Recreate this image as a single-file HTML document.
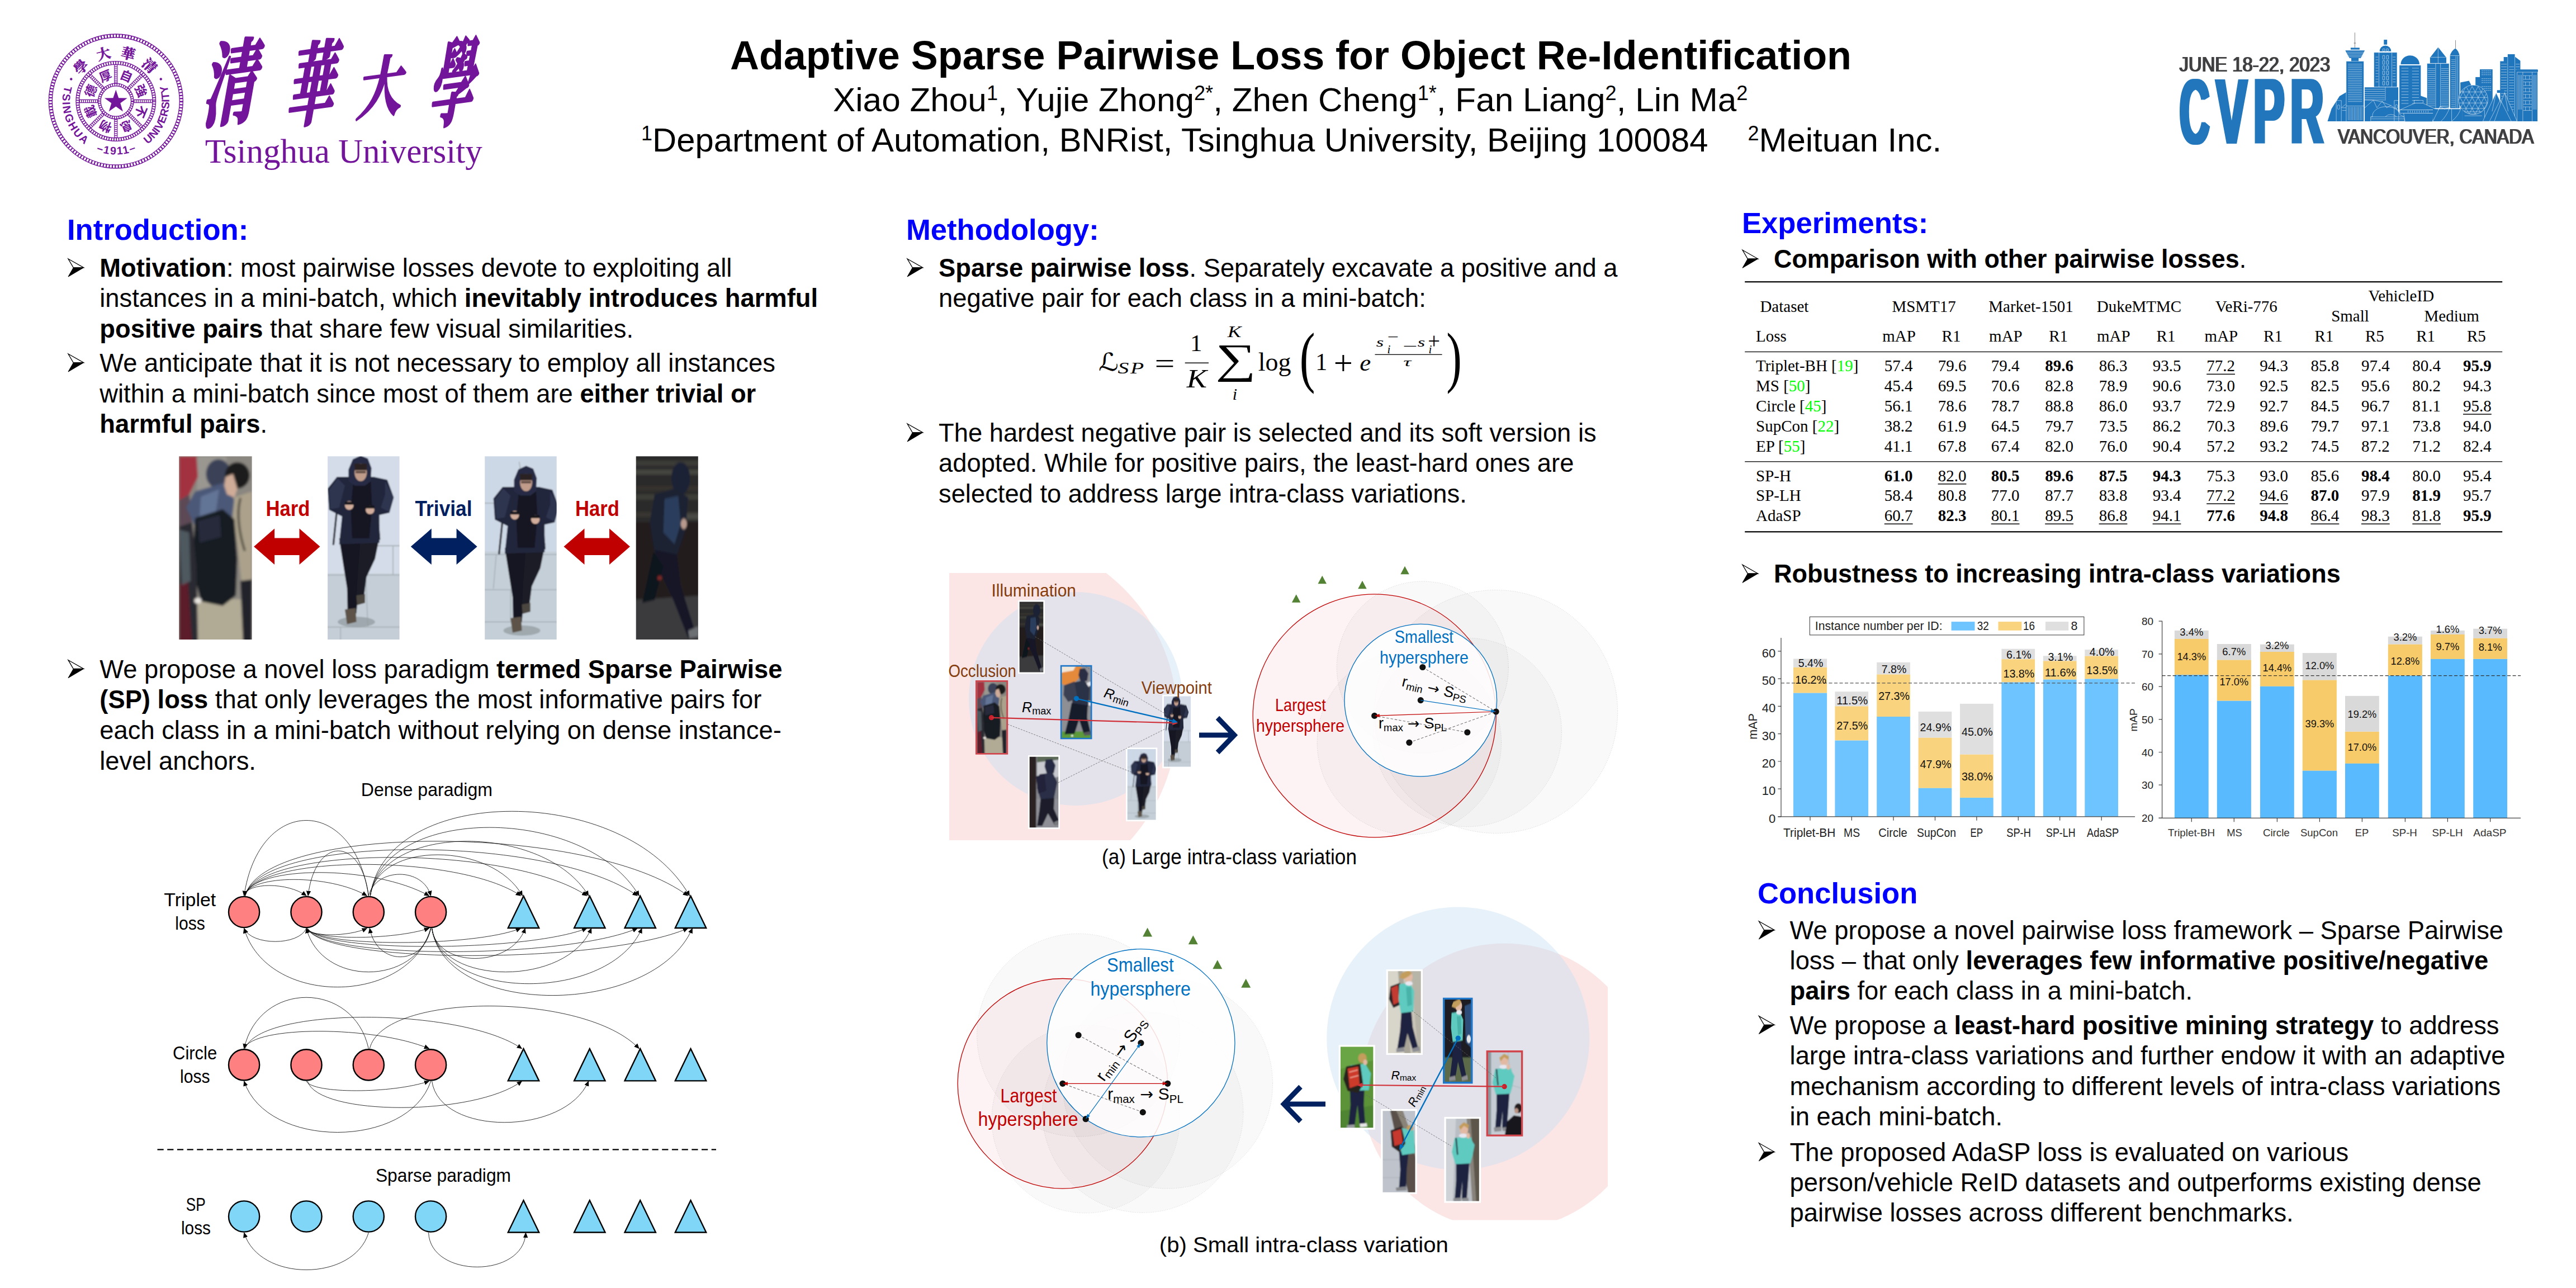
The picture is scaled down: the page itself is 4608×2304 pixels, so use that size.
<!DOCTYPE html>
<html lang="en"><head><meta charset="utf-8"><title>Adaptive Sparse Pairwise Loss for Object Re-Identification</title>
<style>
html,body{margin:0;padding:0;background:#fff;}
body{width:4608px;height:2304px;overflow:hidden;font-family:'Liberation Sans',sans-serif;}
svg{display:block}
text{white-space:pre}
</style></head><body>
<svg width="4608" height="2304" viewBox="0 0 4608 2304">
<rect width="4608" height="2304" fill="#fff"/>
<g id="s_text">
<text x="1306.0" y="123.5" font-size="72" font-family="'Liberation Sans', sans-serif" font-weight="bold" textLength="2006.0" lengthAdjust="spacingAndGlyphs">Adaptive Sparse Pairwise Loss for Object Re-Identification</text>
<text x="1490.0" y="199.0" font-size="60" font-family="'Liberation Sans', sans-serif" textLength="1636.4" lengthAdjust="spacingAndGlyphs">Xiao Zhou<tspan font-size="36" dy="-20">1</tspan><tspan dy="20" font-size="60">​</tspan>, Yujie Zhong<tspan font-size="36" dy="-20">2*</tspan><tspan dy="20" font-size="60">​</tspan>, Zhen Cheng<tspan font-size="36" dy="-20">1*</tspan><tspan dy="20" font-size="60">​</tspan>, Fan Liang<tspan font-size="36" dy="-20">2</tspan><tspan dy="20" font-size="60">​</tspan>, Lin Ma<tspan font-size="36" dy="-20">2</tspan><tspan dy="20" font-size="60">​</tspan></text>
<text x="1147.0" y="271.0" font-size="60" font-family="'Liberation Sans', sans-serif" textLength="1908.6" lengthAdjust="spacingAndGlyphs"><tspan font-size="36" dy="-20">1</tspan><tspan dy="20" font-size="60">​</tspan>Department of Automation, BNRist, Tsinghua University, Beijing 100084</text>
<text x="3126.4" y="271.0" font-size="60" font-family="'Liberation Sans', sans-serif"><tspan font-size="36" dy="-20">2</tspan><tspan dy="20" font-size="60">​</tspan>Meituan Inc.</text>
<text x="120.0" y="428.5" font-size="52.6" font-family="'Liberation Sans', sans-serif" font-weight="bold" fill="#0000FF">Introduction:</text>
<text x="1621.0" y="428.5" font-size="52.6" font-family="'Liberation Sans', sans-serif" font-weight="bold" fill="#0000FF">Methodology:</text>
<text x="3116.0" y="416.5" font-size="52.6" font-family="'Liberation Sans', sans-serif" font-weight="bold" fill="#0000FF">Experiments:</text>
<text x="3144.0" y="1616.0" font-size="52.6" font-family="'Liberation Sans', sans-serif" font-weight="bold" fill="#0000FF">Conclusion</text>
<text x="178.3" y="495.0" font-size="45.33" font-family="'Liberation Sans', sans-serif" xml:space="preserve" ><tspan font-weight="bold">Motivation</tspan>: most pairwise losses devote to exploiting all</text>
<path d="M122.0,463.0 L149.6,478.7 L131.3,478.8 Z" fill="#fff" stroke="#000" stroke-width="1.3" stroke-linejoin="miter"/><path d="M131.3,478.8 L149.6,478.7 L122.0,495.0 Z" fill="#000" stroke="#000" stroke-width="1"/>
<text x="178.3" y="549.0" font-size="45.33" font-family="'Liberation Sans', sans-serif" xml:space="preserve" >instances in a mini-batch, which <tspan font-weight="bold">inevitably introduces harmful</tspan></text>
<text x="178.3" y="603.5" font-size="45.33" font-family="'Liberation Sans', sans-serif" xml:space="preserve" ><tspan font-weight="bold">positive pairs</tspan> that share few visual similarities.</text>
<text x="178.3" y="665.0" font-size="45.33" font-family="'Liberation Sans', sans-serif" xml:space="preserve" >We anticipate that it is not necessary to employ all instances</text>
<path d="M122.0,633.0 L149.6,648.7 L131.3,648.8 Z" fill="#fff" stroke="#000" stroke-width="1.3" stroke-linejoin="miter"/><path d="M131.3,648.8 L149.6,648.7 L122.0,665.0 Z" fill="#000" stroke="#000" stroke-width="1"/>
<text x="178.3" y="719.5" font-size="45.33" font-family="'Liberation Sans', sans-serif" xml:space="preserve" >within a mini-batch since most of them are <tspan font-weight="bold">either trivial or</tspan></text>
<text x="178.3" y="774.0" font-size="45.33" font-family="'Liberation Sans', sans-serif" xml:space="preserve" ><tspan font-weight="bold">harmful pairs</tspan>.</text>
<text x="178.3" y="1212.7" font-size="45.33" font-family="'Liberation Sans', sans-serif" xml:space="preserve" >We propose a novel loss paradigm <tspan font-weight="bold">termed Sparse Pairwise</tspan></text>
<path d="M122.0,1180.7 L149.6,1196.4 L131.3,1196.5 Z" fill="#fff" stroke="#000" stroke-width="1.3" stroke-linejoin="miter"/><path d="M131.3,1196.5 L149.6,1196.4 L122.0,1212.7 Z" fill="#000" stroke="#000" stroke-width="1"/>
<text x="178.3" y="1267.3" font-size="45.33" font-family="'Liberation Sans', sans-serif" xml:space="preserve" ><tspan font-weight="bold">(SP) loss</tspan> that only leverages the most informative pairs for</text>
<text x="178.3" y="1322.0" font-size="45.33" font-family="'Liberation Sans', sans-serif" xml:space="preserve" >each class in a mini-batch without relying on dense instance-</text>
<text x="178.3" y="1376.6" font-size="45.33" font-family="'Liberation Sans', sans-serif" xml:space="preserve" >level anchors.</text>
<text x="1679.0" y="495.0" font-size="45.33" font-family="'Liberation Sans', sans-serif" xml:space="preserve" ><tspan font-weight="bold">Sparse pairwise loss</tspan>. Separately excavate a positive and a</text>
<path d="M1623.0,463.0 L1650.6,478.7 L1632.3,478.8 Z" fill="#fff" stroke="#000" stroke-width="1.3" stroke-linejoin="miter"/><path d="M1632.3,478.8 L1650.6,478.7 L1623.0,495.0 Z" fill="#000" stroke="#000" stroke-width="1"/>
<text x="1679.0" y="549.0" font-size="45.33" font-family="'Liberation Sans', sans-serif" xml:space="preserve" >negative pair for each class in a mini-batch:</text>
<text x="1679.0" y="790.0" font-size="45.33" font-family="'Liberation Sans', sans-serif" xml:space="preserve" >The hardest negative pair is selected and its soft version is</text>
<path d="M1623.0,758.0 L1650.6,773.7 L1632.3,773.8 Z" fill="#fff" stroke="#000" stroke-width="1.3" stroke-linejoin="miter"/><path d="M1632.3,773.8 L1650.6,773.7 L1623.0,790.0 Z" fill="#000" stroke="#000" stroke-width="1"/>
<text x="1679.0" y="844.0" font-size="45.33" font-family="'Liberation Sans', sans-serif" xml:space="preserve" >adopted. While for positive pairs, the least-hard ones are</text>
<text x="1679.0" y="899.0" font-size="45.33" font-family="'Liberation Sans', sans-serif" xml:space="preserve" >selected to address large intra-class variations.</text>
<text x="3173.0" y="479.3" font-size="45.33" font-family="'Liberation Sans', sans-serif" textLength="845.2" lengthAdjust="spacingAndGlyphs" xml:space="preserve" ><tspan font-weight="bold">Comparison with other pairwise losses</tspan>.</text>
<path d="M3117.0,447.3 L3144.6,463.0 L3126.3,463.1 Z" fill="#fff" stroke="#000" stroke-width="1.3" stroke-linejoin="miter"/><path d="M3126.3,463.1 L3144.6,463.0 L3117.0,479.3 Z" fill="#000" stroke="#000" stroke-width="1"/>
<text x="3173.0" y="1042.3" font-size="45.33" font-family="'Liberation Sans', sans-serif" textLength="1013.7" lengthAdjust="spacingAndGlyphs" xml:space="preserve" ><tspan font-weight="bold">Robustness to increasing intra-class variations</tspan></text>
<path d="M3117.0,1010.3 L3144.6,1026.0 L3126.3,1026.1 Z" fill="#fff" stroke="#000" stroke-width="1.3" stroke-linejoin="miter"/><path d="M3126.3,1026.1 L3144.6,1026.0 L3117.0,1042.3 Z" fill="#000" stroke="#000" stroke-width="1"/>
<text x="3201.6" y="1680.0" font-size="45.33" font-family="'Liberation Sans', sans-serif" xml:space="preserve" >We propose a novel pairwise loss framework – Sparse Pairwise</text>
<path d="M3146.4,1648.0 L3174.0,1663.7 L3155.7,1663.8 Z" fill="#fff" stroke="#000" stroke-width="1.3" stroke-linejoin="miter"/><path d="M3155.7,1663.8 L3174.0,1663.7 L3146.4,1680.0 Z" fill="#000" stroke="#000" stroke-width="1"/>
<text x="3201.6" y="1734.0" font-size="45.33" font-family="'Liberation Sans', sans-serif" xml:space="preserve" >loss – that only <tspan font-weight="bold">leverages few informative positive/negative</tspan></text>
<text x="3201.6" y="1788.0" font-size="45.33" font-family="'Liberation Sans', sans-serif" xml:space="preserve" ><tspan font-weight="bold">pairs</tspan> for each class in a mini-batch.</text>
<text x="3201.6" y="1849.6" font-size="45.33" font-family="'Liberation Sans', sans-serif" xml:space="preserve" >We propose a <tspan font-weight="bold">least-hard positive mining strategy</tspan> to address</text>
<path d="M3146.4,1817.6 L3174.0,1833.3 L3155.7,1833.4 Z" fill="#fff" stroke="#000" stroke-width="1.3" stroke-linejoin="miter"/><path d="M3155.7,1833.4 L3174.0,1833.3 L3146.4,1849.6 Z" fill="#000" stroke="#000" stroke-width="1"/>
<text x="3201.6" y="1904.2" font-size="45.33" font-family="'Liberation Sans', sans-serif" xml:space="preserve" >large intra-class variations and further endow it with an adaptive</text>
<text x="3201.6" y="1958.7" font-size="45.33" font-family="'Liberation Sans', sans-serif" xml:space="preserve" >mechanism according to different levels of intra-class variations</text>
<text x="3201.6" y="2013.3" font-size="45.33" font-family="'Liberation Sans', sans-serif" xml:space="preserve" >in each mini-batch.</text>
<text x="3201.6" y="2076.8" font-size="45.33" font-family="'Liberation Sans', sans-serif" xml:space="preserve" >The proposed AdaSP loss is evaluated on various</text>
<path d="M3146.4,2044.8 L3174.0,2060.5 L3155.7,2060.6 Z" fill="#fff" stroke="#000" stroke-width="1.3" stroke-linejoin="miter"/><path d="M3155.7,2060.6 L3174.0,2060.5 L3146.4,2076.8 Z" fill="#000" stroke="#000" stroke-width="1"/>
<text x="3201.6" y="2130.7" font-size="45.33" font-family="'Liberation Sans', sans-serif" xml:space="preserve" >person/vehicle ReID datasets and outperforms existing dense</text>
<text x="3201.6" y="2185.3" font-size="45.33" font-family="'Liberation Sans', sans-serif" xml:space="preserve" >pairwise losses across different benchmarks.</text>
</g>
<g id="s_logos">
<circle cx="207.3" cy="181.0" r="120.00" fill="none" stroke="#73159A" stroke-width="1.3"/><circle cx="207.3" cy="181.0" r="114.00" fill="none" stroke="#73159A" stroke-width="1.3"/><circle cx="207.3" cy="181.0" r="117.00" fill="none" stroke="#73159A" stroke-width="6.00" stroke-dasharray="2.2 3.2"/>
<circle cx="207.3" cy="181.0" r="71.30" fill="none" stroke="#73159A" stroke-width="1.3"/><circle cx="207.3" cy="181.0" r="65.70" fill="none" stroke="#73159A" stroke-width="1.3"/><circle cx="207.3" cy="181.0" r="68.50" fill="none" stroke="#73159A" stroke-width="5.60" stroke-dasharray="1.8 2.6"/>
<circle cx="207.3" cy="181.0" r="31.80" fill="none" stroke="#73159A" stroke-width="1.3"/><circle cx="207.3" cy="181.0" r="27.20" fill="none" stroke="#73159A" stroke-width="1.3"/><circle cx="207.3" cy="181.0" r="29.50" fill="none" stroke="#73159A" stroke-width="4.60" stroke-dasharray="1.6 2.4"/>
<path d="M239.3,183.6L272.8,183.6M239.3,178.4L272.8,178.4" stroke="#73159A" stroke-width="1.1" fill="none"/>
<path d="M239.3,181.0L272.8,181.0" stroke="#73159A" stroke-width="4.4" stroke-dasharray="1.4 2.2" fill="none"/>
<path d="M228.1,205.5L251.8,229.2M231.8,201.8L255.5,225.5" stroke="#73159A" stroke-width="1.1" fill="none"/>
<path d="M229.9,203.6L253.6,227.3" stroke="#73159A" stroke-width="4.4" stroke-dasharray="1.4 2.2" fill="none"/>
<path d="M204.7,213.0L204.7,246.5M209.9,213.0L209.9,246.5" stroke="#73159A" stroke-width="1.1" fill="none"/>
<path d="M207.3,213.0L207.3,246.5" stroke="#73159A" stroke-width="4.4" stroke-dasharray="1.4 2.2" fill="none"/>
<path d="M182.8,201.8L159.1,225.5M186.5,205.5L162.8,229.2" stroke="#73159A" stroke-width="1.1" fill="none"/>
<path d="M184.7,203.6L161.0,227.3" stroke="#73159A" stroke-width="4.4" stroke-dasharray="1.4 2.2" fill="none"/>
<path d="M175.3,178.4L141.8,178.4M175.3,183.6L141.8,183.6" stroke="#73159A" stroke-width="1.1" fill="none"/>
<path d="M175.3,181.0L141.8,181.0" stroke="#73159A" stroke-width="4.4" stroke-dasharray="1.4 2.2" fill="none"/>
<path d="M186.5,156.5L162.8,132.8M182.8,160.2L159.1,136.5" stroke="#73159A" stroke-width="1.1" fill="none"/>
<path d="M184.7,158.4L161.0,134.7" stroke="#73159A" stroke-width="4.4" stroke-dasharray="1.4 2.2" fill="none"/>
<path d="M209.9,149.0L209.9,115.5M204.7,149.0L204.7,115.5" stroke="#73159A" stroke-width="1.1" fill="none"/>
<path d="M207.3,149.0L207.3,115.5" stroke="#73159A" stroke-width="4.4" stroke-dasharray="1.4 2.2" fill="none"/>
<path d="M231.8,160.2L255.5,136.5M228.1,156.5L251.8,132.8" stroke="#73159A" stroke-width="1.1" fill="none"/>
<path d="M229.9,158.4L253.6,134.7" stroke="#73159A" stroke-width="4.4" stroke-dasharray="1.4 2.2" fill="none"/>
<polygon points="207.3,160.5 212.2,175.2 227.7,175.4 215.3,184.6 219.9,199.4 207.3,190.4 194.7,199.4 199.3,184.6 186.9,175.4 202.4,175.2" fill="#73159A"/>
<g transform="translate(207.3,181.0) rotate(22.5)"><text x="0.0" y="-40.5" font-size="22" font-family="'Liberation Sans', 'Noto Sans CJK SC', sans-serif" font-weight="bold" fill="#73159A" text-anchor="middle">自</text></g>
<g transform="translate(207.3,181.0) rotate(67.5)"><text x="0.0" y="-40.5" font-size="22" font-family="'Liberation Sans', 'Noto Sans CJK SC', sans-serif" font-weight="bold" fill="#73159A" text-anchor="middle">強</text></g>
<g transform="translate(207.3,181.0) rotate(112.5)"><text x="0.0" y="-40.5" font-size="22" font-family="'Liberation Sans', 'Noto Sans CJK SC', sans-serif" font-weight="bold" fill="#73159A" text-anchor="middle">不</text></g>
<g transform="translate(207.3,181.0) rotate(157.5)"><text x="0.0" y="-40.5" font-size="22" font-family="'Liberation Sans', 'Noto Sans CJK SC', sans-serif" font-weight="bold" fill="#73159A" text-anchor="middle">息</text></g>
<g transform="translate(207.3,181.0) rotate(202.5)"><text x="0.0" y="-40.5" font-size="22" font-family="'Liberation Sans', 'Noto Sans CJK SC', sans-serif" font-weight="bold" fill="#73159A" text-anchor="middle">物</text></g>
<g transform="translate(207.3,181.0) rotate(247.5)"><text x="0.0" y="-40.5" font-size="22" font-family="'Liberation Sans', 'Noto Sans CJK SC', sans-serif" font-weight="bold" fill="#73159A" text-anchor="middle">載</text></g>
<g transform="translate(207.3,181.0) rotate(292.5)"><text x="0.0" y="-40.5" font-size="22" font-family="'Liberation Sans', 'Noto Sans CJK SC', sans-serif" font-weight="bold" fill="#73159A" text-anchor="middle">德</text></g>
<g transform="translate(207.3,181.0) rotate(337.5)"><text x="0.0" y="-40.5" font-size="22" font-family="'Liberation Sans', 'Noto Sans CJK SC', sans-serif" font-weight="bold" fill="#73159A" text-anchor="middle">厚</text></g>
<path id="sealTop" d="M128.8,181.0 A78.5,78.5 0 0 1 285.8,181.0" fill="none"/>
<g transform="translate(207.3,181.0) rotate(-45.5)"><text x="0.0" y="-78.5" font-size="25" font-family="'Liberation Serif', 'Noto Serif CJK SC', serif" font-weight="bold" fill="#73159A" text-anchor="middle" stroke="#73159A" stroke-width="0.7">學</text></g>
<g transform="translate(207.3,181.0) rotate(-14.5)"><text x="0.0" y="-78.5" font-size="25" font-family="'Liberation Serif', 'Noto Serif CJK SC', serif" font-weight="bold" fill="#73159A" text-anchor="middle" stroke="#73159A" stroke-width="0.7">大</text></g>
<g transform="translate(207.3,181.0) rotate(14.5)"><text x="0.0" y="-78.5" font-size="25" font-family="'Liberation Serif', 'Noto Serif CJK SC', serif" font-weight="bold" fill="#73159A" text-anchor="middle" stroke="#73159A" stroke-width="0.7">華</text></g>
<g transform="translate(207.3,181.0) rotate(43.5)"><text x="0.0" y="-78.5" font-size="25" font-family="'Liberation Serif', 'Noto Serif CJK SC', serif" font-weight="bold" fill="#73159A" text-anchor="middle" stroke="#73159A" stroke-width="0.7">清</text></g>
<path id="sealBot" d="M207.30,85.50 A95.5,95.5 0 1 0 207.30,276.50 A95.5,95.5 0 1 0 207.30,85.50" fill="none"/>
<text font-size="19.5" font-family="'Liberation Sans', sans-serif" font-weight="bold" fill="#73159A" textLength="118.3" lengthAdjust="spacing"><textPath href="#sealBot" startOffset="121.7">TSINGHUA</textPath></text>
<text font-size="19.5" font-family="'Liberation Sans', sans-serif" font-weight="bold" fill="#73159A" textLength="73.3" lengthAdjust="spacing"><textPath href="#sealBot" startOffset="263.4">–1911–</textPath></text>
<text font-size="19.5" font-family="'Liberation Sans', sans-serif" font-weight="bold" fill="#73159A" textLength="118.3" lengthAdjust="spacing"><textPath href="#sealBot" startOffset="360.0">UNIVERSITY</textPath></text>
<circle cx="127.30000000000001" cy="141.5" r="2.2" fill="#73159A"/>
<circle cx="287.8" cy="141.5" r="2.2" fill="#73159A"/>
<g transform="translate(405.9,222.2) skewX(-10) skewY(-8) scale(0.938,1.664)"><text x="0.0" y="-8.0" font-size="100.0" font-family="'Liberation Serif', 'Noto Serif CJK SC', serif" font-weight="bold" fill="#73159A" text-anchor="middle" stroke="#73159A" stroke-width="3" stroke-linejoin="round">清</text></g>
<g transform="translate(550.3,222.9) skewX(-10) skewY(-8) scale(0.828,1.634)"><text x="0.0" y="-8.0" font-size="100.0" font-family="'Liberation Serif', 'Noto Serif CJK SC', serif" font-weight="bold" fill="#73159A" text-anchor="middle" stroke="#73159A" stroke-width="3" stroke-linejoin="round">華</text></g>
<g transform="translate(675.1,208.7) skewX(-10) skewY(-8) scale(0.785,1.199)"><text x="0.0" y="-8.0" font-size="100.0" font-family="'Liberation Serif', 'Noto Serif CJK SC', serif" font-weight="bold" fill="#73159A" text-anchor="middle" stroke="#73159A" stroke-width="3" stroke-linejoin="round">大</text></g>
<g transform="translate(802.3,224.4) skewX(-10) skewY(-8) scale(0.793,1.713)"><text x="0.0" y="-8.0" font-size="100.0" font-family="'Liberation Serif', 'Noto Serif CJK SC', serif" font-weight="bold" fill="#73159A" text-anchor="middle" stroke="#73159A" stroke-width="3" stroke-linejoin="round">學</text></g>
<text x="366.8" y="290.5" font-size="61" font-family="'Liberation Serif', serif" fill="#73159A" textLength="496.0" lengthAdjust="spacingAndGlyphs">Tsinghua University</text>
<defs><filter id="fat" x="-5%" y="-5%" width="110%" height="110%"><feMorphology operator="dilate" radius="3.0 0"/></filter><filter id="fat2" x="-5%" y="-20%" width="110%" height="140%"><feMorphology operator="dilate" radius="0.55 0.45"/></filter></defs>
<text x="3898.6" y="128.4" font-size="37.4" font-family="'Liberation Sans', sans-serif" fill="#414042" textLength="269.6" lengthAdjust="spacingAndGlyphs" filter="url(#fat2)">JUNE 18-22, 2023</text>
<text x="4181.9" y="256.6" font-size="37.7" font-family="'Liberation Sans', sans-serif" fill="#414042" textLength="350.6" lengthAdjust="spacingAndGlyphs" filter="url(#fat2)">VANCOUVER, CANADA</text>
<g filter="url(#fat)"><text transform="translate(3898.94,256.7) scale(0.441,1)" font-size="167.7" font-family="'Liberation Sans', sans-serif" font-weight="bold" fill="#2076BC">C</text><text transform="translate(3964.00,256.7) scale(0.499,1)" font-size="167.7" font-family="'Liberation Sans', sans-serif" font-weight="bold" fill="#2076BC">V</text><text transform="translate(4031.01,256.7) scale(0.496,1)" font-size="167.7" font-family="'Liberation Sans', sans-serif" font-weight="bold" fill="#2076BC">P</text><text transform="translate(4097.05,256.7) scale(0.492,1)" font-size="167.7" font-family="'Liberation Sans', sans-serif" font-weight="bold" fill="#2076BC">R</text></g>
<g transform="translate(4150,40) scale(0.15916)"><polygon points="85,1112 130,970 220,830 295,785 295,1112" fill="#2076BC" /><polygon points="1130,1112 1130,825 1200,850 1200,1112" fill="#2076BC" /><polygon points="1578,1112 1578,675 1675,657 1700,705 1700,1112" fill="#2076BC" /><rect x="503" y="730" width="377" height="382" fill="#2076BC"/><path d="M503,752H728M503,776H728M503,800H728M503,824H728M503,848H728M503,872H728" stroke="#cfe3f3" stroke-width="4" fill="none"/><path d="M735,730V880" stroke="#fff" stroke-width="3.2" fill="none"/><rect x="295" y="437" width="198" height="675" fill="#2076BC"/><polygon points="285,315 503,315 495,332 458,402 332,402 293,332" fill="#2076BC" /><rect x="352" y="400" width="82" height="40" fill="#2076BC"/><rect x="345" y="285" width="100" height="21" fill="#2076BC"/><path d="M392,115V285M380,233H404" stroke="#414042" stroke-width="4" fill="none"/><path d="M300,335H490M300,352H490M300,370H490M300,388H490" stroke="#cfe3f3" stroke-width="4" fill="none"/><path d="M315,470H473M315,490H473M315,510H473M315,530H473M315,550H473M315,570H473M315,590H473M315,610H473M315,630H473M315,650H473M315,670H473M315,690H473M315,710H473M315,730H473M315,750H473M315,770H473M315,790H473M315,810H473M315,830H473M315,850H473M315,870H473M315,890H473" stroke="#cfe3f3" stroke-width="4" fill="none"/><path d="M318,950V1100M335,950V1100M352,950V1100M369,950V1100M386,950V1100M403,950V1100M420,950V1100M437,950V1100M454,950V1100M471,950V1100" stroke="#cfe3f3" stroke-width="4" fill="none"/><path d="M295,437H493M295,940H493M295,437V1112M493,437V1112" stroke="#fff" stroke-width="3.2" fill="none"/><rect x="608" y="338" width="257" height="387" fill="#2076BC"/><path d="M670,325 A65,65 0 0 1 800,325 Z" fill="#2076BC"/><rect x="718" y="195" width="37" height="55" fill="#2076BC"/><path d="M663,338V725M808,338V725M608,338H865" stroke="#fff" stroke-width="3.2" fill="none"/><path d="M625,390H655M625,421H655M625,452H655M625,483H655M625,514H655M625,545H655M625,576H655M625,607H655M625,638H655M625,669H655" stroke="#cfe3f3" stroke-width="4" fill="none"/><path d="M818,390H850M818,421H850M818,452H850M818,483H850M818,514H850M818,545H850M818,576H850M818,607H850M818,638H850M818,669H850" stroke="#cfe3f3" stroke-width="4" fill="none"/><rect x="705" y="372" width="22" height="42" rx="3" fill="none" stroke="#fff" stroke-width="3.5"/><rect x="748" y="372" width="22" height="42" rx="3" fill="none" stroke="#fff" stroke-width="3.5"/><rect x="705" y="430" width="22" height="42" rx="3" fill="none" stroke="#fff" stroke-width="3.5"/><rect x="748" y="430" width="22" height="42" rx="3" fill="none" stroke="#fff" stroke-width="3.5"/><rect x="705" y="488" width="22" height="42" rx="3" fill="none" stroke="#fff" stroke-width="3.5"/><rect x="748" y="488" width="22" height="42" rx="3" fill="none" stroke="#fff" stroke-width="3.5"/><rect x="705" y="546" width="22" height="42" rx="3" fill="none" stroke="#fff" stroke-width="3.5"/><rect x="748" y="546" width="22" height="42" rx="3" fill="none" stroke="#fff" stroke-width="3.5"/><rect x="705" y="604" width="22" height="42" rx="3" fill="none" stroke="#fff" stroke-width="3.5"/><rect x="748" y="604" width="22" height="42" rx="3" fill="none" stroke="#fff" stroke-width="3.5"/><rect x="705" y="662" width="22" height="42" rx="3" fill="none" stroke="#fff" stroke-width="3.5"/><rect x="748" y="662" width="22" height="42" rx="3" fill="none" stroke="#fff" stroke-width="3.5"/><rect x="705" y="298" width="24" height="24" rx="4" fill="none" stroke="#fff" stroke-width="3.5"/><rect x="745" y="298" width="24" height="24" rx="4" fill="none" stroke="#fff" stroke-width="3.5"/><rect x="893" y="482" width="240" height="630" fill="#2076BC"/><path d="M908,472 A105,100 0 0 1 1118,472 Z" fill="#2076BC"/><path d="M915,515H995M915,548H995M915,581H995M915,614H995M915,647H995M915,680H995M915,713H995M915,746H995M915,779H995M915,812H995M915,845H995M915,878H995M915,911H995" stroke="#cfe3f3" stroke-width="4" fill="none"/><path d="M1035,515H1112M1035,548H1112M1035,581H1112M1035,614H1112M1035,647H1112M1035,680H1112M1035,713H1112M1035,746H1112M1035,779H1112M1035,812H1112M1035,845H1112M1035,878H1112M1035,911H1112" stroke="#cfe3f3" stroke-width="4" fill="none"/><path d="M893,482H1133" stroke="#fff" stroke-width="3.2" fill="none"/><rect x="1205" y="462" width="245" height="503" fill="#2076BC"/><rect x="1237" y="390" width="183" height="68" fill="#2076BC"/><polygon points="1328,280 1240,392 1418,392" fill="#2076BC" /><path d="M1328,280V458M1237,392H1420M1205,462H1450M1300,462V960M1355,462V960" stroke="#fff" stroke-width="3.2" fill="none"/><path d="M1212,520H1295M1212,542H1295M1212,564H1295M1212,586H1295M1212,608H1295M1212,630H1295M1212,652H1295M1212,674H1295M1212,696H1295M1212,718H1295M1212,740H1295M1212,762H1295M1212,784H1295M1212,806H1295M1212,828H1295M1212,850H1295M1212,872H1295M1212,894H1295M1212,916H1295M1212,938H1295" stroke="#cfe3f3" stroke-width="4" fill="none"/><path d="M1362,520H1445M1362,542H1445M1362,564H1445M1362,586H1445M1362,608H1445M1362,630H1445M1362,652H1445M1362,674H1445M1362,696H1445M1362,718H1445M1362,740H1445M1362,762H1445M1362,784H1445M1362,806H1445M1362,828H1445M1362,850H1445M1362,872H1445M1362,894H1445M1362,916H1445M1362,938H1445" stroke="#cfe3f3" stroke-width="4" fill="none"/><rect x="1462" y="372" width="106" height="593" fill="#2076BC"/><path d="M1462,374 Q1475,320 1522,292 Q1560,320 1568,374 Z" fill="#2076BC"/><path d="M1524,200V292" stroke="#414042" stroke-width="4" fill="none"/><path d="M1462,374H1568M1528,380V960M1548,380V960" stroke="#fff" stroke-width="3.2" fill="none"/><path d="M1475,420H1520M1475,442H1520M1475,464H1520M1475,486H1520M1475,508H1520M1475,530H1520M1475,552H1520M1475,574H1520M1475,596H1520M1475,618H1520M1475,640H1520M1475,662H1520M1475,684H1520M1475,706H1520M1475,728H1520M1475,750H1520M1475,772H1520M1475,794H1520M1475,816H1520M1475,838H1520M1475,860H1520M1475,882H1520M1475,904H1520M1475,926H1520M1475,948H1520" stroke="#cfe3f3" stroke-width="4" fill="none"/><rect x="1748" y="615" width="192" height="285" fill="#2076BC"/><rect x="1797" y="528" width="143" height="92" fill="#2076BC"/><path d="M1815,545H1925" stroke="#cfe3f3" stroke-width="4" fill="none"/><path d="M1815,567H1925" stroke="#cfe3f3" stroke-width="4" fill="none"/><path d="M1815,589H1925" stroke="#cfe3f3" stroke-width="4" fill="none"/><path d="M1815,633H1925" stroke="#cfe3f3" stroke-width="4" fill="none"/><path d="M1815,655H1925" stroke="#cfe3f3" stroke-width="4" fill="none"/><path d="M1815,677H1925" stroke="#cfe3f3" stroke-width="4" fill="none"/><path d="M1815,721H1925" stroke="#cfe3f3" stroke-width="4" fill="none"/><path d="M1815,743H1925" stroke="#cfe3f3" stroke-width="4" fill="none"/><path d="M1815,765H1925" stroke="#cfe3f3" stroke-width="4" fill="none"/><path d="M1838,540V770M1860,540V770M1882,540V770M1904,540V770M1926,540V770" stroke="#2076BC" stroke-width="4" fill="none"/><polygon points="2025,1112 2025,437 2065,437 2065,390 2110,390 2110,358 2190,358 2190,385 2252,432 2252,1112" fill="#2076BC" /><path d="M2110,390V1112M2190,385V1112" stroke="#fff" stroke-width="3.2" fill="none"/><path d="M2035,470H2100M2035,500H2100M2035,530H2100M2035,560H2100M2035,590H2100M2035,620H2100M2035,650H2100M2035,680H2100M2035,710H2100M2035,740H2100M2035,770H2100M2035,800H2100M2035,830H2100M2035,860H2100M2035,890H2100M2035,920H2100M2035,950H2100M2035,980H2100" stroke="#cfe3f3" stroke-width="4" fill="none"/><path d="M2125,500H2180M2125,530H2180M2125,560H2180M2125,590H2180M2125,620H2180M2125,650H2180M2125,680H2180M2125,710H2180M2125,740H2180M2125,770H2180M2125,800H2180M2125,830H2180M2125,860H2180M2125,890H2180M2125,920H2180M2125,950H2180M2125,980H2180" stroke="#cfe3f3" stroke-width="4" fill="none"/><path d="M2200,470H2245M2200,500H2245M2200,530H2245" stroke="#cfe3f3" stroke-width="4" fill="none"/><rect x="2210" y="545" width="235" height="567" fill="#2076BC"/><rect x="2205" y="530" width="245" height="28" rx="8" fill="#2076BC"/><path d="M2215,560H2440M2280,560V1112M2385,560V1112M2215,560V1112" stroke="#fff" stroke-width="3.2" fill="none"/><path d="M2285,600H2380M2285,640H2380M2310,600V640M2355,600V640" stroke="#fff" stroke-width="3.2" fill="none"/><path d="M2285,670H2380M2285,710H2380M2310,670V710M2355,670V710" stroke="#fff" stroke-width="3.2" fill="none"/><path d="M2285,740H2380M2285,780H2380M2310,740V780M2355,740V780" stroke="#fff" stroke-width="3.2" fill="none"/><path d="M2285,810H2380M2285,850H2380M2310,810V850M2355,810V850" stroke="#fff" stroke-width="3.2" fill="none"/><path d="M2285,880H2380M2285,920H2380M2310,880V920M2355,880V920" stroke="#fff" stroke-width="3.2" fill="none"/><path d="M2285,950H2380M2285,990H2380M2310,950V990M2355,950V990" stroke="#fff" stroke-width="3.2" fill="none"/><path d="M2232,590V980M2248,590V980M2264,590V980M2400,590V980M2415,590V980M2430,590V980" stroke="#cfe3f3" stroke-width="4" fill="none"/><rect x="1595" y="985" width="255" height="127" fill="#2076BC"/><rect x="1840" y="895" width="190" height="217" fill="#2076BC"/><circle cx="1722" cy="870" r="165" fill="#2076BC" stroke="#fff" stroke-width="3.5"/><clipPath id="sph"><circle cx="1722" cy="870" r="163"/></clipPath><path d="M1472,782L1506,720L1540,782ZM1540,782L1574,720L1608,782ZM1608,782L1642,720L1676,782ZM1676,782L1710,720L1744,782ZM1744,782L1778,720L1812,782ZM1812,782L1846,720L1880,782ZM1880,782L1914,720L1948,782ZM1948,782L1982,720L2016,782ZM1506,844L1540,782L1574,844ZM1574,844L1608,782L1642,844ZM1642,844L1676,782L1710,844ZM1710,844L1744,782L1778,844ZM1778,844L1812,782L1846,844ZM1846,844L1880,782L1914,844ZM1914,844L1948,782L1982,844ZM1982,844L2016,782L2050,844ZM1472,906L1506,844L1540,906ZM1540,906L1574,844L1608,906ZM1608,906L1642,844L1676,906ZM1676,906L1710,844L1744,906ZM1744,906L1778,844L1812,906ZM1812,906L1846,844L1880,906ZM1880,906L1914,844L1948,906ZM1948,906L1982,844L2016,906ZM1506,968L1540,906L1574,968ZM1574,968L1608,906L1642,968ZM1642,968L1676,906L1710,968ZM1710,968L1744,906L1778,968ZM1778,968L1812,906L1846,968ZM1846,968L1880,906L1914,968ZM1914,968L1948,906L1982,968ZM1982,968L2016,906L2050,968ZM1472,1030L1506,968L1540,1030ZM1540,1030L1574,968L1608,1030ZM1608,1030L1642,968L1676,1030ZM1676,1030L1710,968L1744,1030ZM1744,1030L1778,968L1812,1030ZM1812,1030L1846,968L1880,1030ZM1880,1030L1914,968L1948,1030ZM1948,1030L1982,968L2016,1030Z" stroke="#fff" stroke-width="3.2" fill="none" clip-path="url(#sph)"/><path d="M1595,985V1112M1850,985V1112M1625,1005H1820M1625,1050H1820" stroke="#fff" stroke-width="3.2" fill="none"/><polygon points="1830,1112 1980,790 2130,1112" fill="#2076BC" stroke="#fff" stroke-width="3.2"/><polygon points="1960,1112 2075,790 2215,1112" fill="#2076BC" stroke="#fff" stroke-width="3.2"/><path d="M1905,1112L2028,870L2150,1112M1935,1000L1980,790M2075,790L2115,1000" stroke="#fff" stroke-width="3.2" fill="none"/><rect x="1990" y="762" width="80" height="30" fill="#2076BC"/><path d="M570,1112V1062H590 A150,100 0 0 1 900,1040 L950,1062V1112Z" fill="#2076BC" stroke="#fff" stroke-width="3.2"/><path d="M735,1060 A90,90 0 0 1 860,1060M570,1062H950M570,1085H950" stroke="#fff" stroke-width="3.2" fill="none"/><path d="M503,870 Q700,860 880,985 M503,960L600,875L640,960L700,885L750,960L800,930" stroke="#fff" stroke-width="3.2" fill="none"/><polygon points="895,985 1075,905 1150,905 1320,985" fill="#2076BC" stroke="#fff" stroke-width="3.2"/><rect x="1060" y="878" width="100" height="28" fill="#2076BC" stroke="#fff" stroke-width="3.2"/><rect x="898" y="985" width="428" height="36" fill="#2076BC" stroke="#fff" stroke-width="3.2"/><path d="M990,992V1014M1015,992V1014M1040,992V1014M1065,992V1014M1090,992V1014M1115,992V1014M1140,992V1014M1165,992V1014M1190,992V1014M1215,992V1014" stroke="#cfe3f3" stroke-width="4" fill="none"/><polygon points="940,1021 1282,1021 1266,1116 956,1116" fill="#2076BC" stroke="#fff" stroke-width="3.2"/><rect x="1270" y="975" width="330" height="137" fill="#2076BC"/><path d="M1270,1112L1350,945L1460,955Q1420,1060 1360,1112M1480,1112Q1560,1050 1585,960M1330,985L1350,945L1400,975L1460,955M1480,975V1112" stroke="#fff" stroke-width="3.2" fill="none"/><path d="M183,1112V878H240V1112M240,960L290,920M250,960H295M250,990H295" stroke="#fff" stroke-width="3.2" fill="none"/><rect x="197" y="928" width="24" height="48" rx="10" fill="none" stroke="#fff" stroke-width="3.2"/><path d="M835,1112V878H885V1112" stroke="#fff" stroke-width="3.2" fill="none"/><rect x="848" y="925" width="24" height="40" rx="10" fill="none" stroke="#fff" stroke-width="3.2"/></g>
</g>
<g id="s_intro">
<defs><filter id="pb" x="-5%" y="-5%" width="110%" height="110%"><feGaussianBlur stdDeviation="0.9"/></filter><filter id="pb2" x="-5%" y="-5%" width="110%" height="110%"><feGaussianBlur stdDeviation="1.6"/></filter><filter id="pb3" x="-5%" y="-5%" width="110%" height="110%"><feGaussianBlur stdDeviation="1.5"/></filter></defs>
<svg x="320.2" y="816.3" width="130.4" height="327.7" viewBox="0 0 100 250" preserveAspectRatio="none" overflow="hidden"><g filter="url(#pb3)"><rect x="-5" y="-5" width="110" height="260" fill="#8a8680" /><rect x="25" y="0" width="40" height="60" fill="#9a9791" /><polygon points="18,195 88,195 92,255 22,255" fill="#b1aa95" /><polygon points="0,0 24,0 26,28 14,52 0,62" fill="#a3303f" /><polygon points="0,60 14,52 18,90 0,110" fill="#5b4a55" /><ellipse cx="54" cy="24" rx="17" ry="20" fill="#3b4258" /><polygon points="22,48 62,36 76,60 70,100 24,100 10,70" fill="#4b5878" /><polygon points="30,55 55,45 50,80 28,88" fill="#7487aa" opacity="0.6"/><ellipse cx="80" cy="26" rx="17" ry="18" fill="#1f1d1e" /><polygon points="64,28 74,24 80,44 76,56 66,52 62,40" fill="#cfac98" /><polygon points="76,56 100,48 100,172 86,172 80,120 74,80" fill="#aca28c" /><path d="M84,58C78,80 84,110 90,128" stroke="#4a4238" stroke-width="3" fill="none" stroke-linecap="round"/><polygon points="84,170 100,168 100,255 88,255" fill="#20212b" /><polygon points="22,84 60,72 76,86 80,140 78,190 60,204 30,198 18,150" fill="#191a23" /><polygon points="26,88 56,80 58,110 28,118" fill="#262a3a" /><polygon points="0,96 18,90 24,150 26,255 0,255" fill="#2a2a32" /><polygon points="0,175 12,168 18,255 0,255" fill="#5c1c2b" /><polygon points="0,100 14,104 16,170 4,176" fill="#56646a" opacity="0.8"/><ellipse cx="26" cy="197" rx="5" ry="4" fill="#e8e4df" /></g></svg>
<svg x="586.1" y="816.3" width="128.5" height="327.7" viewBox="0 0 100 250" preserveAspectRatio="none" overflow="hidden"><g filter="url(#pb)"><rect x="-5" y="-5" width="110" height="260" fill="#d3dce8" /><rect x="-5" y="160" width="110" height="100" fill="#bac3c9" opacity="0.55"/><path d="M50,122H105M-5,162H105M-5,233H105M91,122V162M53,162L56,233M18,233V255" stroke="#aab3b9" stroke-width="1.4" fill="none" stroke-linecap="round"/><g transform="translate(0,0) scale(1.0)"><ellipse cx="40" cy="226" rx="26" ry="7" fill="#8f989d" opacity="0.7"/><polygon points="16,112 50,112 46,150 40,214 28,222 27,180" fill="#161821" /><polygon points="46,110 73,106 66,140 54,165 50,196 40,198 42,160" fill="#1b1d28" /><polygon points="24,209 39,207 40,226 27,229" fill="#5d5349" /><polygon points="40,190 52,188 52,200 41,203" fill="#4c4640" /><path d="M13,72L8,120M70,88L72,113" stroke="#2a2c36" stroke-width="2.6" fill="none" stroke-linecap="round"/><polygon points="30,28 64,28 83,32 92,56 86,77 72,80 72,118 16,120 20,82 2,73 0,44 13,28" fill="#23273c" /><polygon points="36,32 60,32 62,70 58,112 34,112 32,70" fill="#171924" /><polygon points="2,46 14,30 24,40 16,70 4,72" fill="#2e3450" /><polygon points="80,34 92,56 86,76 74,70 80,52" fill="#2e3450" /><ellipse cx="30" cy="67" rx="6" ry="6" fill="#d2ad9b" /><ellipse cx="59" cy="73" rx="6" ry="6" fill="#d2ad9b" /><rect x="24" y="62" width="12" height="4" fill="#15161c" /><rect x="53" y="67" width="12" height="4" fill="#15161c" /><polygon points="46,-1 56,3 61,16 60,34 52,40 38,40 29,34 29,18 35,4" fill="#282c44" /><ellipse cx="46" cy="22" rx="8.5" ry="12" fill="#c19c8b" /><polygon points="37,10 55,10 54,19 38,19" fill="#2a2323" /><rect x="39" y="20" width="14" height="3" fill="#5b4740" /></g></g></svg>
<svg x="867.2" y="816.3" width="128.5" height="327.7" viewBox="0 0 100 250" preserveAspectRatio="none" overflow="hidden"><g filter="url(#pb)"><rect x="-5" y="-5" width="110" height="260" fill="#cdd8e6" /><rect x="-5" y="130" width="110" height="130" fill="#bfc9cf" opacity="0.6"/><path d="M-5,64H60M-5,134H30M75,134H105M16,134L12,180M-5,182H105M48,8L50,22M-5,226H105M36,182V226" stroke="#a9b3ba" stroke-width="1.4" fill="none" stroke-linecap="round"/><g transform="translate(12,14) scale(0.99)"><ellipse cx="40" cy="226" rx="26" ry="7" fill="#8f989d" opacity="0.7"/><polygon points="16,112 50,112 46,150 40,214 28,222 27,180" fill="#161821" /><polygon points="46,110 73,106 66,140 54,165 50,196 40,198 42,160" fill="#1b1d28" /><polygon points="24,209 39,207 40,226 27,229" fill="#5d5349" /><polygon points="40,190 52,188 52,200 41,203" fill="#4c4640" /><path d="M13,72L8,120M70,88L72,113" stroke="#2a2c36" stroke-width="2.6" fill="none" stroke-linecap="round"/><polygon points="30,28 64,28 83,32 92,56 86,77 72,80 72,118 16,120 20,82 2,73 0,44 13,28" fill="#23273c" /><polygon points="36,32 60,32 62,70 58,112 34,112 32,70" fill="#171924" /><polygon points="2,46 14,30 24,40 16,70 4,72" fill="#2e3450" /><polygon points="80,34 92,56 86,76 74,70 80,52" fill="#2e3450" /><ellipse cx="30" cy="67" rx="6" ry="6" fill="#d2ad9b" /><ellipse cx="59" cy="73" rx="6" ry="6" fill="#d2ad9b" /><rect x="24" y="62" width="12" height="4" fill="#15161c" /><rect x="53" y="67" width="12" height="4" fill="#15161c" /><polygon points="46,-1 56,3 61,16 60,34 52,40 38,40 29,34 29,18 35,4" fill="#282c44" /><ellipse cx="46" cy="22" rx="8.5" ry="12" fill="#c19c8b" /><polygon points="37,10 55,10 54,19 38,19" fill="#2a2323" /><rect x="39" y="20" width="14" height="3" fill="#5b4740" /></g></g></svg>
<svg x="1137.7" y="816.3" width="111.1" height="327.7" viewBox="0 0 100 250" preserveAspectRatio="none" overflow="hidden"><g filter="url(#pb3)"><rect x="-5" y="-5" width="110" height="260" fill="#2c2b2a" /><rect x="-5" y="6" width="110" height="7" fill="#3a3a37" /><rect x="-5" y="18" width="110" height="7" fill="#45453f" /><rect x="-5" y="40" width="110" height="7" fill="#34332f" /><rect x="-5" y="52" width="110" height="7" fill="#3c3c38" /><rect x="-5" y="76" width="110" height="7" fill="#373633" /><rect x="-5" y="90" width="110" height="105" fill="#231f1d" /><rect x="60" y="78" width="45" height="8" fill="#4a4a45" /><polygon points="-5,196 105,190 105,255 -5,255" fill="#3b3b3d" /><ellipse cx="72" cy="30" rx="15" ry="22" fill="#1c2234" /><polygon points="30,52 62,44 84,56 80,100 64,140 30,132 22,90" fill="#1a2032" /><polygon points="46,58 68,54 72,92 62,120 44,104" fill="#2b3d5c" /><ellipse cx="77" cy="92" rx="5" ry="7" fill="#b79a8d" /><polygon points="30,128 66,134 72,176 94,236 100,246 84,248 60,196 40,160" fill="#151928" /><polygon points="28,130 44,150 30,196 10,200" fill="#10131e" /><polygon points="84,238 100,232 100,246 86,248" fill="#6d6f73" /><ellipse cx="38" cy="166" rx="4" ry="3" fill="#7a2626" /></g></svg>
<polygon points="454.1,977.8 491.1,945.5999999999999 491.1,962.5999999999999 535.5,962.5999999999999 535.5,945.5999999999999 572.5,977.8 535.5,1010.0 535.5,993.0 491.1,993.0 491.1,1010.0" fill="#C00000"/>
<polygon points="734.8,977.8 771.8,945.5999999999999 771.8,962.5999999999999 816.6,962.5999999999999 816.6,945.5999999999999 853.6,977.8 816.6,1010.0 816.6,993.0 771.8,993.0 771.8,1010.0" fill="#002060"/>
<polygon points="1008.5,977.8 1045.5,945.5999999999999 1045.5,962.5999999999999 1090.0,962.5999999999999 1090.0,945.5999999999999 1127.0,977.8 1090.0,1010.0 1090.0,993.0 1045.5,993.0 1045.5,1010.0" fill="#C00000"/>
<text x="475.5" y="922.7" font-size="38" font-family="'Liberation Sans', sans-serif" font-weight="bold" fill="#C00000" textLength="79.0" lengthAdjust="spacingAndGlyphs">Hard</text>
<text x="742.5" y="922.7" font-size="38" font-family="'Liberation Sans', sans-serif" font-weight="bold" fill="#002060" textLength="102.0" lengthAdjust="spacingAndGlyphs">Trivial</text>
<text x="1029.0" y="922.7" font-size="38" font-family="'Liberation Sans', sans-serif" font-weight="bold" fill="#C00000" textLength="79.0" lengthAdjust="spacingAndGlyphs">Hard</text>
</g>
<g id="s_dense">
<defs><marker id="ah" viewBox="0 0 10 10" refX="9.2" refY="5" markerWidth="9.5" markerHeight="9.5" markerUnits="userSpaceOnUse" orient="auto"><path d="M0,0.6 L10,5 L0,9.4 Z" fill="#000"/></marker></defs>
<path d="M659.3,1602.4 C632.6,1422.6 463.3,1422.6 436.6,1602.4" fill="none" stroke="#000" stroke-width="0.8" marker-end="url(#ah)"/>
<path d="M659.3,1602.4 C646.3,1495.3 564.0,1495.3 551.0,1602.4" fill="none" stroke="#000" stroke-width="0.8" marker-end="url(#ah)"/>
<path d="M659.3,1602.4 C672.7,1551.2 757.2,1551.2 770.6,1602.4" fill="none" stroke="#000" stroke-width="0.8" marker-end="url(#ah)"/>
<path d="M662.3,1602.4 C675.9,1504.6 880.1,1504.6 934.5,1602.4" fill="none" stroke="#000" stroke-width="0.8" marker-end="url(#ah)"/>
<path d="M662.3,1602.4 C681.8,1472.3 974.7,1472.3 1052.8,1602.4" fill="none" stroke="#000" stroke-width="0.8" marker-end="url(#ah)"/>
<path d="M662.3,1602.4 C686.3,1439.4 1047.0,1439.4 1143.2,1602.4" fill="none" stroke="#000" stroke-width="0.8" marker-end="url(#ah)"/>
<path d="M662.3,1602.4 C690.9,1400.9 1119.3,1400.9 1233.5,1602.4" fill="none" stroke="#000" stroke-width="0.8" marker-end="url(#ah)"/>
<path d="M436.6,1602.4 C442.2,1577.9 514.6,1577.9 548.0,1602.4" fill="none" stroke="#000" stroke-width="0.8" marker-end="url(#ah)"/>
<path d="M436.6,1602.4 C447.6,1563.6 590.4,1563.6 656.3,1602.4" fill="none" stroke="#000" stroke-width="0.8" marker-end="url(#ah)"/>
<path d="M436.6,1602.4 C453.2,1546.9 668.3,1546.9 767.6,1602.4" fill="none" stroke="#000" stroke-width="0.8" marker-end="url(#ah)"/>
<path d="M438.6,1602.4 C458.3,1527.6 823.1,1527.6 931.5,1602.4" fill="none" stroke="#000" stroke-width="0.8" marker-end="url(#ah)"/>
<path d="M438.6,1602.4 C463.0,1510.8 915.3,1510.8 1049.8,1602.4" fill="none" stroke="#000" stroke-width="0.8" marker-end="url(#ah)"/>
<path d="M438.6,1602.4 C466.7,1492.2 985.8,1492.2 1140.2,1602.4" fill="none" stroke="#000" stroke-width="0.8" marker-end="url(#ah)"/>
<path d="M438.6,1602.4 C470.3,1472.3 1056.3,1472.3 1230.5,1602.4" fill="none" stroke="#000" stroke-width="0.8" marker-end="url(#ah)"/>
<path d="M548.0,1660.6 C534.6,1692.1 450.0,1692.1 436.6,1660.6" fill="none" stroke="#000" stroke-width="0.8" marker-end="url(#ah)"/>
<path d="M548.0,1660.6 C553.4,1675.9 623.8,1675.9 656.3,1660.6" fill="none" stroke="#000" stroke-width="0.8" marker-end="url(#ah)"/>
<path d="M548.0,1660.6 C559.0,1682.1 701.7,1682.1 767.6,1660.6" fill="none" stroke="#000" stroke-width="0.8" marker-end="url(#ah)"/>
<path d="M550.0,1660.6 C565.3,1694.5 847.6,1694.5 931.5,1660.6" fill="none" stroke="#000" stroke-width="0.8" marker-end="url(#ah)"/>
<path d="M550.0,1660.6 C570.0,1703.9 939.8,1703.9 1049.8,1660.6" fill="none" stroke="#000" stroke-width="0.8" marker-end="url(#ah)"/>
<path d="M550.0,1660.6 C573.6,1716.3 1010.4,1716.3 1140.2,1660.6" fill="none" stroke="#000" stroke-width="0.8" marker-end="url(#ah)"/>
<path d="M550.0,1660.6 C577.2,1725.6 1080.8,1725.6 1230.5,1660.6" fill="none" stroke="#000" stroke-width="0.8" marker-end="url(#ah)"/>
<path d="M770.6,1660.6 C730.5,1800.7 476.7,1800.7 436.6,1660.6" fill="none" stroke="#000" stroke-width="0.8" marker-end="url(#ah)"/>
<path d="M770.6,1660.6 C743.9,1764.7 574.7,1764.7 548.0,1660.6" fill="none" stroke="#000" stroke-width="0.8" marker-end="url(#ah)"/>
<path d="M770.6,1660.6 C757.5,1728.7 674.4,1728.7 661.3,1660.6" fill="none" stroke="#000" stroke-width="0.8" marker-end="url(#ah)"/>
<path d="M772.6,1660.6 C780.9,1732.4 914.5,1732.4 939.5,1660.6" fill="none" stroke="#000" stroke-width="0.8" marker-end="url(#ah)"/>
<path d="M772.6,1660.6 C786.9,1764.7 1015.0,1764.7 1057.8,1660.6" fill="none" stroke="#000" stroke-width="0.8" marker-end="url(#ah)"/>
<path d="M772.6,1660.6 C791.4,1792.7 1091.9,1792.7 1148.2,1660.6" fill="none" stroke="#000" stroke-width="0.8" marker-end="url(#ah)"/>
<path d="M772.6,1660.6 C795.9,1820.6 1168.6,1820.6 1238.5,1660.6" fill="none" stroke="#000" stroke-width="0.8" marker-end="url(#ah)"/>
<circle cx="436.6" cy="1631.5" r="27.6" fill="#FF8080" stroke="#000" stroke-width="2.4"/>
<circle cx="548.0" cy="1631.5" r="27.6" fill="#FF8080" stroke="#000" stroke-width="2.4"/>
<circle cx="659.3" cy="1631.5" r="27.6" fill="#FF8080" stroke="#000" stroke-width="2.4"/>
<circle cx="770.6" cy="1631.5" r="27.6" fill="#FF8080" stroke="#000" stroke-width="2.4"/>
<polygon points="936.5,1602.7 908.8,1660.0 964.2,1660.0" fill="#7FD6F7" stroke="#000" stroke-width="2.4" stroke-linejoin="miter"/>
<polygon points="1054.8,1602.7 1027.1,1660.0 1082.5,1660.0" fill="#7FD6F7" stroke="#000" stroke-width="2.4" stroke-linejoin="miter"/>
<polygon points="1145.2,1602.7 1117.5,1660.0 1172.9,1660.0" fill="#7FD6F7" stroke="#000" stroke-width="2.4" stroke-linejoin="miter"/>
<polygon points="1235.5,1602.7 1207.8,1660.0 1263.2,1660.0" fill="#7FD6F7" stroke="#000" stroke-width="2.4" stroke-linejoin="miter"/>
<path d="M659.3,1875.8 C632.6,1753.7 463.3,1753.7 436.6,1875.8" fill="none" stroke="#000" stroke-width="0.8" marker-end="url(#ah)"/>
<path d="M436.6,1875.8 C453.2,1834.4 668.3,1834.4 767.6,1875.8" fill="none" stroke="#000" stroke-width="0.8" marker-end="url(#ah)"/>
<path d="M438.6,1875.8 C463.3,1800.9 824.6,1800.9 933.5,1875.8" fill="none" stroke="#000" stroke-width="0.8" marker-end="url(#ah)"/>
<path d="M661.3,1875.8 C685.4,1774.2 1046.8,1774.2 1143.2,1875.8" fill="none" stroke="#000" stroke-width="0.8" marker-end="url(#ah)"/>
<path d="M548.0,1934.0 C559.0,1956.7 701.7,1956.7 767.6,1934.0" fill="none" stroke="#000" stroke-width="0.8" marker-end="url(#ah)"/>
<path d="M550.0,1934.0 C569.2,1997.0 849.1,1997.0 933.5,1934.0" fill="none" stroke="#000" stroke-width="0.8" marker-end="url(#ah)"/>
<path d="M770.6,1934.0 C730.5,2056.0 476.7,2056.0 436.6,1934.0" fill="none" stroke="#000" stroke-width="0.8" marker-end="url(#ah)"/>
<path d="M772.6,1934.0 C786.6,2032.4 1010.8,2032.4 1052.8,1934.0" fill="none" stroke="#000" stroke-width="0.8" marker-end="url(#ah)"/>
<circle cx="436.6" cy="1904.9" r="27.6" fill="#FF8080" stroke="#000" stroke-width="2.4"/>
<circle cx="548.0" cy="1904.9" r="27.6" fill="#FF8080" stroke="#000" stroke-width="2.4"/>
<circle cx="659.3" cy="1904.9" r="27.6" fill="#FF8080" stroke="#000" stroke-width="2.4"/>
<circle cx="770.6" cy="1904.9" r="27.6" fill="#FF8080" stroke="#000" stroke-width="2.4"/>
<polygon points="936.5,1876.1 908.8,1933.4 964.2,1933.4" fill="#7FD6F7" stroke="#000" stroke-width="2.4" stroke-linejoin="miter"/>
<polygon points="1054.8,1876.1 1027.1,1933.4 1082.5,1933.4" fill="#7FD6F7" stroke="#000" stroke-width="2.4" stroke-linejoin="miter"/>
<polygon points="1145.2,1876.1 1117.5,1933.4 1172.9,1933.4" fill="#7FD6F7" stroke="#000" stroke-width="2.4" stroke-linejoin="miter"/>
<polygon points="1235.5,1876.1 1207.8,1933.4 1263.2,1933.4" fill="#7FD6F7" stroke="#000" stroke-width="2.4" stroke-linejoin="miter"/>
<path d="M659.3,2205.1 C632.6,2293.6 463.3,2293.6 436.6,2205.1" fill="none" stroke="#000" stroke-width="0.8" marker-end="url(#ah)"/>
<path d="M766.6,2205.1 C770.1,2286.8 937.0,2286.8 940.5,2205.1" fill="none" stroke="#000" stroke-width="0.8" marker-end="url(#ah)"/>
<circle cx="436.6" cy="2176" r="27.6" fill="#7FD6F7" stroke="#000" stroke-width="2.4"/>
<circle cx="548.0" cy="2176" r="27.6" fill="#7FD6F7" stroke="#000" stroke-width="2.4"/>
<circle cx="659.3" cy="2176" r="27.6" fill="#7FD6F7" stroke="#000" stroke-width="2.4"/>
<circle cx="770.6" cy="2176" r="27.6" fill="#7FD6F7" stroke="#000" stroke-width="2.4"/>
<polygon points="936.5,2147.2 908.8,2204.5 964.2,2204.5" fill="#7FD6F7" stroke="#000" stroke-width="2.4" stroke-linejoin="miter"/>
<polygon points="1054.8,2147.2 1027.1,2204.5 1082.5,2204.5" fill="#7FD6F7" stroke="#000" stroke-width="2.4" stroke-linejoin="miter"/>
<polygon points="1145.2,2147.2 1117.5,2204.5 1172.9,2204.5" fill="#7FD6F7" stroke="#000" stroke-width="2.4" stroke-linejoin="miter"/>
<polygon points="1235.5,2147.2 1207.8,2204.5 1263.2,2204.5" fill="#7FD6F7" stroke="#000" stroke-width="2.4" stroke-linejoin="miter"/>
<path d="M281.5,2056.3H1281" stroke="#000" stroke-width="2.3" stroke-dasharray="11.2 6.5" fill="none"/>
<text x="645.8" y="1424.3" font-size="34" font-family="'Liberation Sans', sans-serif" textLength="235.2" lengthAdjust="spacingAndGlyphs">Dense paradigm</text>
<text x="671.9" y="2114.0" font-size="34" font-family="'Liberation Sans', sans-serif" textLength="242.2" lengthAdjust="spacingAndGlyphs">Sparse paradigm</text>
<text x="293.2" y="1620.8" font-size="34" font-family="'Liberation Sans', sans-serif" textLength="93.1" lengthAdjust="spacingAndGlyphs">Triplet</text>
<text x="313.2" y="1662.8" font-size="34" font-family="'Liberation Sans', sans-serif" textLength="53.6" lengthAdjust="spacingAndGlyphs">loss</text>
<text x="309.0" y="1895.1" font-size="34" font-family="'Liberation Sans', sans-serif" textLength="79.2" lengthAdjust="spacingAndGlyphs">Circle</text>
<text x="322.0" y="1937.0" font-size="34" font-family="'Liberation Sans', sans-serif" textLength="53.6" lengthAdjust="spacingAndGlyphs">loss</text>
<text x="332.8" y="2166.2" font-size="34" font-family="'Liberation Sans', sans-serif" textLength="34.9" lengthAdjust="spacingAndGlyphs">SP</text>
<text x="323.9" y="2208.1" font-size="34" font-family="'Liberation Sans', sans-serif" textLength="53.1" lengthAdjust="spacingAndGlyphs">loss</text>
</g>
<g id="s_formula">
<text transform="translate(1964.90,662.52) scale(0.4985,0.4416)" font-size="100" font-family="'DejaVu Sans', sans-serif">ℒ</text>
<text x="1999.5" y="668.2" font-size="29" font-family="'Liberation Serif', serif" font-style="italic" textLength="49.5" lengthAdjust="spacingAndGlyphs" letter-spacing="2">SP</text>
<text transform="translate(2065.45,667.38) scale(0.6375,0.5040)" font-size="100" font-family="'Liberation Serif', serif">=</text>
<text transform="translate(2129.06,628.20) scale(0.4306,0.4212)" font-size="100" font-family="'Liberation Serif', serif">1</text>
<rect x="2119.7" y="648.5" width="42.3" height="1.5" fill="#000"/>
<text transform="translate(2122.68,692.74) scale(0.5425,0.4576)" font-size="100" font-family="'Liberation Serif', serif" font-style="italic">K</text>
<text transform="translate(2174.33,667.00) scale(1.0164,0.7500)" font-size="100" font-family="'Liberation Serif', serif">∑</text>
<text transform="translate(2195.74,603.00) scale(0.3699,0.3045)" font-size="100" font-family="'Liberation Serif', serif" font-style="italic">K</text>
<text x="2209.0" y="714.7" font-size="30" font-family="'Liberation Serif', serif" font-style="italic" text-anchor="middle">i</text>
<text transform="translate(2250.78,662.71) scale(0.4591,0.4711)" font-size="100" font-family="'Liberation Serif', serif">log</text>
<text transform="translate(2324.67,678.68) scale(0.8333,1.2054)" font-size="100" font-family="'Liberation Serif', serif">(</text>
<text transform="translate(2353.14,661.80) scale(0.4194,0.4424)" font-size="100" font-family="'Liberation Serif', serif">1</text>
<text transform="translate(2385.77,670.01) scale(0.6063,0.6213)" font-size="100" font-family="'Liberation Serif', serif">+</text>
<text transform="translate(2432.25,662.57) scale(0.4500,0.4292)" font-size="100" font-family="'Liberation Serif', serif" font-style="italic">e</text>
<text transform="translate(2461.75,620.28) scale(0.3457,0.2229)" font-size="100" font-family="'Liberation Serif', serif" font-style="italic">s</text>
<text x="2481.5" y="632.2" font-size="21" font-family="'Liberation Serif', serif" font-style="italic">i</text>
<text transform="translate(2481.87,610.10) scale(0.3583,0.2167)" font-size="100" font-family="'Liberation Serif', serif">−</text>
<text transform="translate(2509.13,627.10) scale(0.4667,0.2333)" font-size="100" font-family="'Liberation Serif', serif">−</text>
<text transform="translate(2535.75,620.28) scale(0.3457,0.2229)" font-size="100" font-family="'Liberation Serif', serif" font-style="italic">s</text>
<text x="2555.5" y="632.2" font-size="21" font-family="'Liberation Serif', serif" font-style="italic">i</text>
<text transform="translate(2554.36,623.44) scale(0.3854,0.3936)" font-size="100" font-family="'Liberation Serif', serif">+</text>
<rect x="2459.5" y="633.6" width="120.1" height="1.3" fill="#000"/>
<text transform="translate(2510.22,654.79) scale(0.3919,0.2085)" font-size="100" font-family="'Liberation Serif', serif" font-style="italic">τ</text>
<text transform="translate(2587.24,678.68) scale(0.8296,1.2054)" font-size="100" font-family="'Liberation Serif', serif">)</text>
</g>
<g id="s_hyper">
<clipPath id="clipA"><rect x="1698" y="1025" width="430" height="478"/></clipPath>
<g clip-path="url(#clipA)"><circle cx="1779.0" cy="1284.0" r="327.0" fill="#FBE5E5" stroke="none" stroke-width="0" /></g>
<circle cx="1924.0" cy="1250.0" r="191.0" fill="#CBE2F5" stroke="none" stroke-width="0" fill-opacity="0.48"/>
<rect x="1821.0" y="1073.7" width="48.0" height="131.5" fill="#fff"/><svg x="1823.7" y="1076.4" width="42.6" height="126.1" viewBox="0 0 100 250" preserveAspectRatio="none" overflow="hidden"><g filter="url(#pb2)"><rect x="-5" y="-5" width="110" height="260" fill="#2c2b2a" /><rect x="-5" y="6" width="110" height="7" fill="#3a3a37" /><rect x="-5" y="18" width="110" height="7" fill="#45453f" /><rect x="-5" y="40" width="110" height="7" fill="#34332f" /><rect x="-5" y="52" width="110" height="7" fill="#3c3c38" /><rect x="-5" y="76" width="110" height="7" fill="#373633" /><rect x="-5" y="90" width="110" height="105" fill="#231f1d" /><rect x="60" y="78" width="45" height="8" fill="#4a4a45" /><polygon points="-5,196 105,190 105,255 -5,255" fill="#3b3b3d" /><ellipse cx="72" cy="30" rx="15" ry="22" fill="#1c2234" /><polygon points="30,52 62,44 84,56 80,100 64,140 30,132 22,90" fill="#1a2032" /><polygon points="46,58 68,54 72,92 62,120 44,104" fill="#2b3d5c" /><ellipse cx="77" cy="92" rx="5" ry="7" fill="#b79a8d" /><polygon points="30,128 66,134 72,176 94,236 100,246 84,248 60,196 40,160" fill="#151928" /><polygon points="28,130 44,150 30,196 10,200" fill="#10131e" /><polygon points="84,238 100,232 100,246 86,248" fill="#6d6f73" /><ellipse cx="38" cy="166" rx="4" ry="3" fill="#7a2626" /></g></svg>
<rect x="1839.0" y="1351.0" width="57.0" height="131.9" fill="#fff"/><svg x="1841.7" y="1353.7" width="51.6" height="126.5" viewBox="0 0 100 250" preserveAspectRatio="none" overflow="hidden"><g filter="url(#pb2)"><rect x="-5" y="-5" width="110" height="260" fill="#85868d" /><polygon points="26,14 105,4 105,70 26,84" fill="#c7c9cf" /><polygon points="26,-5 105,-5 105,10 26,20" fill="#5d6a58" /><rect x="-5" y="150" width="110" height="110" fill="#8f9097" /><rect x="-5" y="-5" width="28" height="270" fill="#2c2421" /><polygon points="56,10 78,8 90,30 84,58 60,60 52,34" fill="#272b42" /><polygon points="34,62 80,56 96,90 84,150 40,156 26,110" fill="#2a2f47" /><polygon points="22,70 52,60 58,120 30,130" fill="#20243a" /><polygon points="38,150 86,146 84,184 104,230 86,240 64,200 44,244 26,244 34,190" fill="#1a1c2a" /><polygon points="84,232 104,222 104,238 88,244" fill="#77797d" /></g></svg>
<rect x="2014.0" y="1337.4" width="56.3" height="131.8" fill="#fff"/><svg x="2016.7" y="1340.1" width="50.9" height="126.4" viewBox="0 0 100 250" preserveAspectRatio="none" overflow="hidden"><g filter="url(#pb2)"><rect x="-5" y="-5" width="110" height="260" fill="#cdd8e6" /><rect x="-5" y="130" width="110" height="130" fill="#bfc9cf" opacity="0.6"/><path d="M-5,64H60M-5,134H30M75,134H105M16,134L12,180M-5,182H105M48,8L50,22M-5,226H105M36,182V226" stroke="#a9b3ba" stroke-width="1.4" fill="none" stroke-linecap="round"/><g transform="translate(12,14) scale(0.99)"><ellipse cx="40" cy="226" rx="26" ry="7" fill="#8f989d" opacity="0.7"/><polygon points="16,112 50,112 46,150 40,214 28,222 27,180" fill="#161821" /><polygon points="46,110 73,106 66,140 54,165 50,196 40,198 42,160" fill="#1b1d28" /><polygon points="24,209 39,207 40,226 27,229" fill="#5d5349" /><polygon points="40,190 52,188 52,200 41,203" fill="#4c4640" /><path d="M13,72L8,120M70,88L72,113" stroke="#2a2c36" stroke-width="2.6" fill="none" stroke-linecap="round"/><polygon points="30,28 64,28 83,32 92,56 86,77 72,80 72,118 16,120 20,82 2,73 0,44 13,28" fill="#23273c" /><polygon points="36,32 60,32 62,70 58,112 34,112 32,70" fill="#171924" /><polygon points="2,46 14,30 24,40 16,70 4,72" fill="#2e3450" /><polygon points="80,34 92,56 86,76 74,70 80,52" fill="#2e3450" /><ellipse cx="30" cy="67" rx="6" ry="6" fill="#d2ad9b" /><ellipse cx="59" cy="73" rx="6" ry="6" fill="#d2ad9b" /><rect x="24" y="62" width="12" height="4" fill="#15161c" /><rect x="53" y="67" width="12" height="4" fill="#15161c" /><polygon points="46,-1 56,3 61,16 60,34 52,40 38,40 29,34 29,18 35,4" fill="#282c44" /><ellipse cx="46" cy="22" rx="8.5" ry="12" fill="#c19c8b" /><polygon points="37,10 55,10 54,19 38,19" fill="#2a2323" /><rect x="39" y="20" width="14" height="3" fill="#5b4740" /></g></g></svg>
<rect x="2079.2" y="1242.7" width="53.6" height="131.6" fill="#fff"/><svg x="2081.9" y="1245.4" width="48.2" height="126.2" viewBox="0 0 100 250" preserveAspectRatio="none" overflow="hidden"><g filter="url(#pb2)"><rect x="-5" y="-5" width="110" height="260" fill="#d3dce8" /><rect x="-5" y="160" width="110" height="100" fill="#bac3c9" opacity="0.55"/><path d="M50,122H105M-5,162H105M-5,233H105M91,122V162M53,162L56,233M18,233V255" stroke="#aab3b9" stroke-width="1.4" fill="none" stroke-linecap="round"/><g transform="translate(0,0) scale(1.0)"><ellipse cx="40" cy="226" rx="26" ry="7" fill="#8f989d" opacity="0.7"/><polygon points="16,112 50,112 46,150 40,214 28,222 27,180" fill="#161821" /><polygon points="46,110 73,106 66,140 54,165 50,196 40,198 42,160" fill="#1b1d28" /><polygon points="24,209 39,207 40,226 27,229" fill="#5d5349" /><polygon points="40,190 52,188 52,200 41,203" fill="#4c4640" /><path d="M13,72L8,120M70,88L72,113" stroke="#2a2c36" stroke-width="2.6" fill="none" stroke-linecap="round"/><polygon points="30,28 64,28 83,32 92,56 86,77 72,80 72,118 16,120 20,82 2,73 0,44 13,28" fill="#23273c" /><polygon points="36,32 60,32 62,70 58,112 34,112 32,70" fill="#171924" /><polygon points="2,46 14,30 24,40 16,70 4,72" fill="#2e3450" /><polygon points="80,34 92,56 86,76 74,70 80,52" fill="#2e3450" /><ellipse cx="30" cy="67" rx="6" ry="6" fill="#d2ad9b" /><ellipse cx="59" cy="73" rx="6" ry="6" fill="#d2ad9b" /><rect x="24" y="62" width="12" height="4" fill="#15161c" /><rect x="53" y="67" width="12" height="4" fill="#15161c" /><polygon points="46,-1 56,3 61,16 60,34 52,40 38,40 29,34 29,18 35,4" fill="#282c44" /><ellipse cx="46" cy="22" rx="8.5" ry="12" fill="#c19c8b" /><polygon points="37,10 55,10 54,19 38,19" fill="#2a2323" /><rect x="39" y="20" width="14" height="3" fill="#5b4740" /></g></g></svg>
<rect x="1896.8" y="1189.8" width="56.7" height="132.5" fill="#1F77C9"/><svg x="1899.4" y="1192.4" width="51.5" height="127.3" viewBox="0 0 100 250" preserveAspectRatio="none" overflow="hidden"><g filter="url(#pb2)"><rect x="-5" y="-5" width="110" height="260" fill="#8d8f94" /><polygon points="-5,-5 70,-5 60,40 30,70 -5,60" fill="#e58a3a" /><polygon points="-5,-5 50,-5 40,14 -5,22" fill="#f3e7d8" /><ellipse cx="98" cy="95" rx="22" ry="42" fill="#e6e6ea" /><ellipse cx="100" cy="95" rx="12" ry="28" fill="#4d4e55" /><rect x="-5" y="228" width="110" height="34" fill="#5c9a3a" /><polygon points="62,8 80,6 92,24 88,50 66,54 58,30" fill="#2b2f45" /><polygon points="40,56 78,48 96,76 92,140 60,150 36,130" fill="#2c3047" /><polygon points="8,66 44,52 54,112 22,124 6,100" fill="#3b4052" /><polygon points="34,128 90,136 88,180 100,232 76,236 60,186 44,236 10,238 24,180" fill="#191b29" /><polygon points="76,232 104,226 104,240 78,242" fill="#55575c" /><ellipse cx="36" cy="243" rx="3.5" ry="3.5" fill="#f2f2f2" /></g></svg>
<rect x="1745.0" y="1217.0" width="58.2" height="132.7" fill="#D0444B"/><svg x="1747.8" y="1219.8" width="52.6" height="127.1" viewBox="0 0 100 250" preserveAspectRatio="none" overflow="hidden"><g filter="url(#pb2)"><rect x="-5" y="-5" width="110" height="260" fill="#8a8680" /><rect x="25" y="0" width="40" height="60" fill="#9a9791" /><polygon points="18,195 88,195 92,255 22,255" fill="#b1aa95" /><polygon points="0,0 24,0 26,28 14,52 0,62" fill="#a3303f" /><polygon points="0,60 14,52 18,90 0,110" fill="#5b4a55" /><ellipse cx="54" cy="24" rx="17" ry="20" fill="#3b4258" /><polygon points="22,48 62,36 76,60 70,100 24,100 10,70" fill="#4b5878" /><polygon points="30,55 55,45 50,80 28,88" fill="#7487aa" opacity="0.6"/><ellipse cx="80" cy="26" rx="17" ry="18" fill="#1f1d1e" /><polygon points="64,28 74,24 80,44 76,56 66,52 62,40" fill="#cfac98" /><polygon points="76,56 100,48 100,172 86,172 80,120 74,80" fill="#aca28c" /><path d="M84,58C78,80 84,110 90,128" stroke="#4a4238" stroke-width="3" fill="none" stroke-linecap="round"/><polygon points="84,170 100,168 100,255 88,255" fill="#20212b" /><polygon points="22,84 60,72 76,86 80,140 78,190 60,204 30,198 18,150" fill="#191a23" /><polygon points="26,88 56,80 58,110 28,118" fill="#262a3a" /><polygon points="0,96 18,90 24,150 26,255 0,255" fill="#2a2a32" /><polygon points="0,175 12,168 18,255 0,255" fill="#5c1c2b" /><polygon points="0,100 14,104 16,170 4,176" fill="#56646a" opacity="0.8"/><ellipse cx="26" cy="197" rx="5" ry="4" fill="#e8e4df" /></g></svg>
<path d="M1851.7,1139L2086.5,1278M1802.6,1295.6L2027.8,1382.6M1893,1400L2084,1304" stroke="#666" stroke-width="0.8" stroke-dasharray="3 2" fill="none"/>
<circle cx="1773.5" cy="1283.7" r="4.6" fill="#C8202A" stroke="none" stroke-width="0" />
<path d="M1773.5,1283.7L2099.2,1293.2" stroke="#D03038" stroke-width="2.2" fill="none"/><polygon points="2107.2,1293.4 2097.1,1297.3 2097.3,1288.9" fill="#D03038"/>
<circle cx="1925.5" cy="1249.6" r="4.6" fill="#0070C0" stroke="none" stroke-width="0" />
<path d="M1925.5,1249.6L2099.4,1290.2" stroke="#0070C0" stroke-width="2.4" fill="none"/><polygon points="2107.2,1292.0 2096.5,1293.8 2098.4,1285.6" fill="#0070C0"/>
<text x="1773.5" y="1067.0" font-size="32" font-family="'Liberation Sans', sans-serif" fill="#843C0C" textLength="151.5" lengthAdjust="spacingAndGlyphs">Illumination</text>
<text x="1696.5" y="1211.0" font-size="32" font-family="'Liberation Sans', sans-serif" fill="#843C0C" textLength="121.5" lengthAdjust="spacingAndGlyphs">Occlusion</text>
<text x="2041.7" y="1240.5" font-size="32" font-family="'Liberation Sans', sans-serif" fill="#843C0C" textLength="126.3" lengthAdjust="spacingAndGlyphs">Viewpoint</text>
<text x="1828.1" y="1273.5" font-size="25" font-family="'Liberation Sans', sans-serif" fill="#000"><tspan font-style="italic">R</tspan><tspan font-size="18.0" dy="4.0">max</tspan></text>
<g transform="rotate(17 1973.3 1246.5)"><text x="1973.3" y="1246.5" font-size="25" font-family="'Liberation Sans', sans-serif" fill="#000"><tspan font-style="italic">R</tspan><tspan font-size="18.0" dy="4.0">min</tspan></text></g>
<path d="M2145,1315H2207M2178,1284L2208,1315L2178,1346" stroke="#002060" stroke-width="9" fill="none" stroke-linejoin="miter" stroke-miterlimit="10"/>
<circle cx="2544.8" cy="1193.5" r="153.5" fill="#000" stroke="#bdbdbd" stroke-width="0.8" fill-opacity="0.022" stroke-dasharray="1 2.2"/>
<circle cx="2676.1" cy="1273.0" r="217.5" fill="#000" stroke="#bdbdbd" stroke-width="0.8" fill-opacity="0.022" stroke-dasharray="1 2.2"/>
<circle cx="2624.8" cy="1310.0" r="168.7" fill="#000" stroke="#bdbdbd" stroke-width="0.8" fill-opacity="0.022" stroke-dasharray="1 2.2"/>
<circle cx="2520.9" cy="1328.3" r="164.7" fill="#000" stroke="#bdbdbd" stroke-width="0.8" fill-opacity="0.022" stroke-dasharray="1 2.2"/>
<circle cx="2458.7" cy="1280.4" r="217.5" fill="#D9363E" stroke="#C00000" stroke-width="1.3" fill-opacity="0.06"/>
<circle cx="2541.3" cy="1252.6" r="136.3" fill="#fff" stroke="#0070C0" stroke-width="1.3" fill-opacity="0.86"/>
<path d="M2544.8,1193.5L2676.1,1273.0M2520.9,1328.3L2676.1,1273.0M2624.8,1310.0L2458.7,1280.4" stroke="#777" stroke-width="1.1" stroke-dasharray="4.5 3" fill="none"/>
<circle cx="2544.8" cy="1193.5" r="5.6" fill="#111" stroke="none" stroke-width="0" />
<circle cx="2541.3" cy="1252.6" r="5.6" fill="#111" stroke="none" stroke-width="0" />
<circle cx="2458.7" cy="1280.4" r="5.6" fill="#111" stroke="none" stroke-width="0" />
<circle cx="2676.1" cy="1273.0" r="5.6" fill="#111" stroke="none" stroke-width="0" />
<circle cx="2624.8" cy="1310.0" r="5.6" fill="#111" stroke="none" stroke-width="0" />
<circle cx="2520.9" cy="1328.3" r="5.6" fill="#111" stroke="none" stroke-width="0" />
<path d="M2676.1,1273.0L2465.9,1280.2" stroke="#C00000" stroke-width="1.2" fill="none"/><polygon points="2458.7,1280.4 2467.6,1277.1 2467.8,1283.1" fill="#C00000"/>
<path d="M2541.3,1252.6L2669.0,1272.0" stroke="#0070C0" stroke-width="1.2" fill="none"/><polygon points="2676.1,1273.0 2666.7,1274.7 2667.6,1268.7" fill="#0070C0"/>
<polygon points="2318.7,1063.2 2310.9,1077.7 2326.4,1077.7" fill="#548235"/>
<polygon points="2365.2,1029.7 2357.5,1044.2 2373.0,1044.2" fill="#548235"/>
<polygon points="2437.0,1038.8 2429.2,1053.3 2444.7,1053.3" fill="#548235"/>
<polygon points="2513.0,1012.8 2505.3,1027.2 2520.8,1027.2" fill="#548235"/>
<text x="2494.8" y="1150.0" font-size="32" font-family="'Liberation Sans', sans-serif" fill="#0070C0" textLength="105.2" lengthAdjust="spacingAndGlyphs">Smallest</text>
<text x="2468.0" y="1187.0" font-size="32" font-family="'Liberation Sans', sans-serif" fill="#0070C0" textLength="159.0" lengthAdjust="spacingAndGlyphs">hypersphere</text>
<text x="2281.0" y="1271.7" font-size="32" font-family="'Liberation Sans', sans-serif" fill="#C00000" textLength="90.7" lengthAdjust="spacingAndGlyphs">Largest</text>
<text x="2247.0" y="1308.7" font-size="32" font-family="'Liberation Sans', sans-serif" fill="#C00000" textLength="158.0" lengthAdjust="spacingAndGlyphs">hypersphere</text>
<g transform="rotate(13 2506.5 1227.0)"><text x="2506.5" y="1227.0" font-size="27" font-family="'Liberation Sans', sans-serif" fill="#000">r<tspan font-size="18.4" dy="4.6">min</tspan><tspan dy="-4.6" font-family="'DejaVu Sans', 'Liberation Sans', sans-serif" font-size="25.6"> → </tspan>S<tspan font-size="18.4" dy="4.6">PS</tspan></text></g>
<text x="2466.1" y="1303.0" font-size="27" font-family="'Liberation Sans', sans-serif" fill="#000">r<tspan font-size="18.4" dy="4.6">max</tspan><tspan dy="-4.6" font-family="'DejaVu Sans', 'Liberation Sans', sans-serif" font-size="25.6"> → </tspan>S<tspan font-size="18.4" dy="4.6">PL</tspan></text>
<text x="1971.0" y="1545.6" font-size="38" font-family="'Liberation Sans', sans-serif" textLength="456.0" lengthAdjust="spacingAndGlyphs">(a) Large intra-class variation</text>
<circle cx="1929.1" cy="1851.7" r="181.5" fill="#000" stroke="#c4c4c4" stroke-width="0.8" fill-opacity="0.022" stroke-dasharray="1 2.2"/>
<circle cx="2088.7" cy="1938.3" r="187.8" fill="#000" stroke="#c4c4c4" stroke-width="0.8" fill-opacity="0.022" stroke-dasharray="1 2.2"/>
<circle cx="2044.3" cy="1989.6" r="179.6" fill="#000" stroke="#c4c4c4" stroke-width="0.8" fill-opacity="0.022" stroke-dasharray="1 2.2"/>
<circle cx="1942.2" cy="2001.7" r="168.1" fill="#000" stroke="#c4c4c4" stroke-width="0.8" fill-opacity="0.022" stroke-dasharray="1 2.2"/>
<circle cx="1900.9" cy="1938.3" r="187.8" fill="#D9363E" stroke="#C00000" stroke-width="1.3" fill-opacity="0.06"/>
<circle cx="2040.9" cy="1865.7" r="168.1" fill="#fff" stroke="#0070C0" stroke-width="1.3" fill-opacity="0.86"/>
<path d="M1929.1,1851.7L2088.7,1938.3M2044.3,1989.6L1900.9,1938.3" stroke="#777" stroke-width="1.1" stroke-dasharray="4.5 3" fill="none"/>
<circle cx="1929.1" cy="1851.7" r="5.6" fill="#111" stroke="none" stroke-width="0" />
<circle cx="2040.9" cy="1865.7" r="5.6" fill="#111" stroke="none" stroke-width="0" />
<circle cx="1900.9" cy="1938.3" r="5.6" fill="#111" stroke="none" stroke-width="0" />
<circle cx="2088.7" cy="1938.3" r="5.6" fill="#111" stroke="none" stroke-width="0" />
<circle cx="2044.3" cy="1989.6" r="5.6" fill="#111" stroke="none" stroke-width="0" />
<circle cx="1942.2" cy="2001.7" r="5.6" fill="#111" stroke="none" stroke-width="0" />
<path d="M1908.1,1938.3L2081.5,1938.3" stroke="#C00000" stroke-width="1.2" fill="none"/><polygon points="2088.7,1938.3 2079.7,1941.3 2079.7,1935.3" fill="#C00000"/><polygon points="1900.9,1938.3 1909.9,1935.3 1909.9,1941.3" fill="#C00000"/>
<path d="M2036.6,1871.5L1946.4,1995.9" stroke="#0070C0" stroke-width="1.2" fill="none"/><polygon points="1942.2,2001.7 1945.0,1992.7 1949.9,1996.2" fill="#0070C0"/><polygon points="2040.9,1865.7 2038.0,1874.7 2033.2,1871.2" fill="#0070C0"/>
<polygon points="2052.6,1659.4 2044.1,1675.4 2061.1,1675.4" fill="#548235"/>
<polygon points="2134.3,1673.3 2125.8,1689.3 2142.8,1689.3" fill="#548235"/>
<polygon points="2177.8,1717.2 2169.3,1733.2 2186.3,1733.2" fill="#548235"/>
<polygon points="2228.7,1750.7 2220.2,1766.7 2237.2,1766.7" fill="#548235"/>
<text x="1980.0" y="1738.3" font-size="35" font-family="'Liberation Sans', sans-serif" fill="#0070C0" textLength="119.6" lengthAdjust="spacingAndGlyphs">Smallest</text>
<text x="1950.4" y="1781.3" font-size="35" font-family="'Liberation Sans', sans-serif" fill="#0070C0" textLength="179.6" lengthAdjust="spacingAndGlyphs">hypersphere</text>
<text x="1789.6" y="1971.7" font-size="35" font-family="'Liberation Sans', sans-serif" fill="#C00000" textLength="100.8" lengthAdjust="spacingAndGlyphs">Largest</text>
<text x="1749.6" y="2013.9" font-size="35" font-family="'Liberation Sans', sans-serif" fill="#C00000" textLength="179.1" lengthAdjust="spacingAndGlyphs">hypersphere</text>
<text x="1981.3" y="1967.4" font-size="30" font-family="'Liberation Sans', sans-serif" fill="#000">r<tspan font-size="20.4" dy="5.1">max</tspan><tspan dy="-5.1" font-family="'DejaVu Sans', 'Liberation Sans', sans-serif" font-size="28.5"> → </tspan>S<tspan font-size="20.4" dy="5.1">PL</tspan></text>
<g transform="rotate(-54 1974.8 1935.7)"><text x="1974.8" y="1935.7" font-size="30" font-family="'Liberation Sans', sans-serif" fill="#000">r<tspan font-size="20.4" dy="5.1">min</tspan><tspan dy="-5.1" font-family="'DejaVu Sans', 'Liberation Sans', sans-serif" font-size="28.5"> → </tspan>S<tspan font-size="20.4" dy="5.1">PS</tspan></text></g>
<path d="M2371,1975H2297.5M2326.5,1944L2296.5,1975L2326.5,2006" stroke="#002060" stroke-width="9" fill="none" stroke-linejoin="miter" stroke-miterlimit="10"/>
<clipPath id="clipB"><rect x="2300" y="1600" width="576" height="582.5"/></clipPath>
<g clip-path="url(#clipB)"><circle cx="2691.5" cy="1943.9" r="256.5" fill="#FBE5E5" stroke="none" stroke-width="0" /></g>
<circle cx="2608.3" cy="1857.5" r="235.0" fill="#CBE2F5" stroke="none" stroke-width="0" fill-opacity="0.48"/>
<rect x="2479.6" y="1734.0" width="65.4" height="153.0" fill="#fff"/><svg x="2482.9" y="1737.3" width="58.8" height="146.4" viewBox="0 0 100 250" preserveAspectRatio="none" overflow="hidden"><g filter="url(#pb2)"><rect x="-5" y="-5" width="110" height="260" fill="#c9c5b8" /><polygon points="30,-5 44,-5 70,260 50,260" fill="#a9a699" /><polygon points="70,-5 105,-5 105,260 92,260" fill="#b7b4a8" /><polygon points="-5,-5 30,-5 50,260 -5,260" fill="#d8d5ca" /><g transform="translate(-4,-10) scale(1.13)"><polygon points="40,112 66,112 70,160 84,214 70,222 56,176 48,214 28,222 36,170" fill="#1d2340" /><polygon points="26,218 46,214 48,226 26,228" fill="#8d8f94" /><polygon points="68,218 88,212 90,224 70,228" fill="#8d8f94" /><polygon points="10,50 36,40 44,96 18,108 6,84" fill="#2a2226" /><polygon points="12,54 30,46 34,92 18,100" fill="#c43a30" /><polygon points="34,44 62,40 74,62 72,118 38,122 32,84" fill="#5ecbc0" /><polygon points="52,52 66,52 68,100 56,104" fill="#49b3a9" /><ellipse cx="58" cy="24" rx="12" ry="14" fill="#e2b9a2" /><polygon points="40,14 60,6 68,14 60,22 46,30 34,26" fill="#c39d5b" /><ellipse cx="60" cy="42" rx="10" ry="6" fill="#e9e9f2" /></g></g></svg>
<rect x="2394.7" y="1869.2" width="65.0" height="151.4" fill="#fff"/><svg x="2398.0" y="1872.5" width="58.4" height="144.8" viewBox="0 0 100 250" preserveAspectRatio="none" overflow="hidden"><g filter="url(#pb2)"><rect x="-5" y="-5" width="110" height="260" fill="#5c9338" /><polygon points="-5,-5 105,-5 105,40 -5,70" fill="#6aa544" /><polygon points="-5,200 105,180 105,260 -5,260" fill="#4f8531" /><g transform="translate(0,-4) scale(1.08)"><polygon points="26,118 68,118 66,170 70,226 54,228 48,170 40,230 22,230 28,170" fill="#1d2340" /><polygon points="18,228 40,226 40,236 18,238" fill="#9a9ca0" /><polygon points="54,224 74,222 76,232 56,234" fill="#e6e6e6" /><polygon points="28,56 70,52 86,80 80,128 30,130 22,90" fill="#5ecbc0" /><polygon points="16,60 56,52 64,110 50,136 20,130 8,96" fill="#28201f" /><polygon points="20,66 50,60 54,112 26,122" fill="#cc3a2c" /><path d="M26,76L48,70M28,92L50,86" stroke="#f0b0a0" stroke-width="2.5" fill="none" stroke-linecap="round"/><ellipse cx="62" cy="36" rx="12" ry="14" fill="#c39d5b" /><ellipse cx="70" cy="48" rx="6" ry="8" fill="#e2b9a2" /></g></g></svg>
<rect x="2470.2" y="1983.9" width="64.6" height="152.1" fill="#fff"/><svg x="2473.5" y="1987.2" width="58.0" height="145.5" viewBox="0 0 100 250" preserveAspectRatio="none" overflow="hidden"><g filter="url(#pb2)"><rect x="-5" y="-5" width="110" height="260" fill="#bfc4cc" /><polygon points="22,-5 60,-5 105,120 105,260 80,260" fill="#5a5048" /><polygon points="40,-5 60,-5 105,120 105,150" fill="#8a8378" /><path d="M-5,150H60M-5,205H70" stroke="#a4a9b0" stroke-width="1.5" fill="none" stroke-linecap="round"/><polygon points="50,124 80,124 74,180 72,236 50,238 54,180" fill="#1d2340" /><polygon points="40,236 72,232 74,244 42,246" fill="#85878c" /><polygon points="56,52 96,60 100,130 60,136 50,100" fill="#5ecbc0" /><polygon points="24,60 58,48 70,100 50,126 28,110" fill="#2a2124" /><polygon points="30,64 56,56 62,100 36,108" fill="#c7382d" /><ellipse cx="84" cy="52" rx="10" ry="9" fill="#c39d5b" /></g></svg>
<rect x="2583.4" y="1997.9" width="65.7" height="153.8" fill="#fff"/><svg x="2586.7" y="2001.2" width="59.1" height="147.2" viewBox="0 0 100 250" preserveAspectRatio="none" overflow="hidden"><g filter="url(#pb2)"><rect x="-5" y="-5" width="110" height="260" fill="#b9bec4" /><polygon points="-5,-5 30,-5 20,260 -5,260" fill="#cfd3d8" /><polygon points="70,-5 105,-5 105,260 86,260" fill="#5d564c" /><polygon points="62,-5 74,-5 92,260 80,260" fill="#87827a" /><g transform="translate(-2,4) scale(1.08)"><polygon points="30,116 68,114 64,170 60,222 46,222 48,170 42,222 26,224 30,170" fill="#1d2340" /><polygon points="22,220 44,218 44,230 24,232" fill="#8b8d92" /><polygon points="46,220 64,218 66,230 48,230" fill="#8b8d92" /><polygon points="26,50 66,46 82,70 76,100 70,122 28,124 18,90" fill="#5ecbc0" /><polygon points="62,50 72,48 78,72 66,80" fill="#5ecbc0" /><path d="M30,52L34,96" stroke="#2b2d3c" stroke-width="4" fill="none" stroke-linecap="round"/><ellipse cx="52" cy="26" rx="12" ry="15" fill="#e2b9a2" /><polygon points="38,18 52,6 66,14 64,24 52,16 42,28" fill="#c39d5b" /><ellipse cx="50" cy="44" rx="12" ry="6" fill="#e6e6f0" /><ellipse cx="64" cy="44" rx="5" ry="8" fill="#e2b9a2" /></g></g></svg>
<rect x="2581.0" y="1784.7" width="53.5" height="153.8" fill="#1F77C9"/><svg x="2584.4" y="1788.1" width="46.7" height="147.0" viewBox="0 0 100 250" preserveAspectRatio="none" overflow="hidden"><g filter="url(#pb2)"><rect x="-5" y="-5" width="110" height="260" fill="#1c1c22" /><rect x="-5" y="176" width="110" height="90" fill="#5b6a4a" /><polygon points="76,20 105,10 105,150 80,130" fill="#2d4d78" /><ellipse cx="92" cy="120" rx="8" ry="12" fill="#e8e8e8" /><g transform="translate(-12,-8) scale(1.12)"><polygon points="40,112 66,112 70,160 84,214 70,222 56,176 48,214 28,222 36,170" fill="#1d2340" /><polygon points="26,218 46,214 48,226 26,228" fill="#8d8f94" /><polygon points="68,218 88,212 90,224 70,228" fill="#8d8f94" /><polygon points="34,44 62,40 74,62 72,118 38,122 32,84" fill="#5ecbc0" /><polygon points="52,52 66,52 68,100 56,104" fill="#49b3a9" /><ellipse cx="58" cy="24" rx="12" ry="14" fill="#e2b9a2" /><polygon points="40,14 60,6 68,14 60,22 46,30 34,26" fill="#c39d5b" /><ellipse cx="60" cy="42" rx="10" ry="6" fill="#e9e9f2" /></g></g></svg>
<rect x="2658.6" y="1879.0" width="65.7" height="153.8" fill="#D0444B"/><svg x="2662.0" y="1882.4" width="58.9" height="147.0" viewBox="0 0 100 250" preserveAspectRatio="none" overflow="hidden"><g filter="url(#pb2)"><rect x="-5" y="-5" width="110" height="260" fill="#c5ccd4" /><rect x="-5" y="-5" width="14" height="270" fill="#8d969c" /><path d="M60,-5L70,100L105,110" stroke="#a6aeb5" stroke-width="1.5" fill="none" stroke-linecap="round"/><g transform="translate(-6,-2) scale(1.05)"><polygon points="30,116 68,114 64,170 60,222 46,222 48,170 42,222 26,224 30,170" fill="#1d2340" /><polygon points="22,220 44,218 44,230 24,232" fill="#8b8d92" /><polygon points="46,220 64,218 66,230 48,230" fill="#8b8d92" /><polygon points="26,50 66,46 82,70 76,100 70,122 28,124 18,90" fill="#5ecbc0" /><polygon points="62,50 72,48 78,72 66,80" fill="#5ecbc0" /><path d="M30,52L34,96" stroke="#2b2d3c" stroke-width="4" fill="none" stroke-linecap="round"/><ellipse cx="52" cy="26" rx="12" ry="15" fill="#e2b9a2" /><polygon points="38,18 52,6 66,14 64,24 52,16 42,28" fill="#c39d5b" /><ellipse cx="50" cy="44" rx="12" ry="6" fill="#e6e6f0" /><ellipse cx="64" cy="44" rx="5" ry="8" fill="#e2b9a2" /></g><ellipse cx="92" cy="170" rx="12" ry="15" fill="#201d1e" /><ellipse cx="86" cy="178" rx="6" ry="8" fill="#b89282" /><polygon points="50,255 58,210 78,192 105,196 105,255" fill="#17171b" /></g></svg>
<path d="M2525.6,1807.4L2679.4,1930.8M2444,1958.8L2595.5,2049.7" stroke="#666" stroke-width="0.8" stroke-dasharray="3 2" fill="none"/>
<circle cx="2691.1" cy="1943.7" r="4.6" fill="#C8202A" stroke="none" stroke-width="0" />
<path d="M2691.1,1943.7L2435.2,1941.0" stroke="#D03038" stroke-width="2.2" fill="none"/><polygon points="2427.2,1940.9 2437.2,1936.8 2437.2,1945.2" fill="#D03038"/>
<circle cx="2608.2" cy="1857.0" r="4.6" fill="#0070C0" stroke="none" stroke-width="0" />
<path d="M2608.2,1857.0L2506.7,2050.2" stroke="#0070C0" stroke-width="2.4" fill="none"/><polygon points="2503.0,2057.3 2503.9,2046.5 2511.4,2050.4" fill="#0070C0"/>
<text x="2488.4" y="1930.8" font-size="21.5" font-family="'Liberation Sans', sans-serif" fill="#000"><tspan font-style="italic">R</tspan><tspan font-size="15.5" dy="2.5">max</tspan></text>
<g transform="rotate(-62 2530.5 1981.2)"><text x="2530.5" y="1981.2" font-size="21.5" font-family="'Liberation Sans', sans-serif" fill="#000"><tspan font-style="italic">R</tspan><tspan font-size="15.5" dy="2.5">min</tspan></text></g>
<text x="2073.8" y="2239.5" font-size="38" font-family="'Liberation Sans', sans-serif" textLength="517.0" lengthAdjust="spacingAndGlyphs">(b) Small intra-class variation</text>
</g>
<g id="s_table">
<rect x="3121.2" y="503.10" width="1355.0" height="2.2" fill="#000"/>
<rect x="3121.2" y="628.75" width="1355.0" height="1.3" fill="#000"/>
<rect x="3121.2" y="825.15" width="1355.0" height="1.3" fill="#000"/>
<rect x="3121.2" y="950.20" width="1355.0" height="2.2" fill="#000"/>
<text x="3148.4" y="557.6" font-size="29" font-family="'Liberation Serif', serif">Dataset</text>
<text x="3441.6" y="557.6" font-size="29" font-family="'Liberation Serif', serif" text-anchor="middle">MSMT17</text>
<text x="3633.0" y="557.6" font-size="29" font-family="'Liberation Serif', serif" text-anchor="middle">Market-1501</text>
<text x="3826.5" y="557.6" font-size="29" font-family="'Liberation Serif', serif" text-anchor="middle">DukeMTMC</text>
<text x="4018.3" y="557.6" font-size="29" font-family="'Liberation Serif', serif" text-anchor="middle">VeRi-776</text>
<text x="4295.3" y="538.6" font-size="29" font-family="'Liberation Serif', serif" text-anchor="middle">VehicleID</text>
<text x="4204.0" y="575.4" font-size="29" font-family="'Liberation Serif', serif" text-anchor="middle">Small</text>
<text x="4385.7" y="575.4" font-size="29" font-family="'Liberation Serif', serif" text-anchor="middle">Medium</text>
<text x="3141.0" y="611.1" font-size="29" font-family="'Liberation Serif', serif">Loss</text>
<text x="3397.0" y="611.1" font-size="29" font-family="'Liberation Serif', serif" text-anchor="middle">mAP</text>
<text x="3490.5" y="611.1" font-size="29" font-family="'Liberation Serif', serif" text-anchor="middle">R1</text>
<text x="3587.9" y="611.1" font-size="29" font-family="'Liberation Serif', serif" text-anchor="middle">mAP</text>
<text x="3682.1" y="611.1" font-size="29" font-family="'Liberation Serif', serif" text-anchor="middle">R1</text>
<text x="3780.8" y="611.1" font-size="29" font-family="'Liberation Serif', serif" text-anchor="middle">mAP</text>
<text x="3874.5" y="611.1" font-size="29" font-family="'Liberation Serif', serif" text-anchor="middle">R1</text>
<text x="3973.4" y="611.1" font-size="29" font-family="'Liberation Serif', serif" text-anchor="middle">mAP</text>
<text x="4066.0" y="611.1" font-size="29" font-family="'Liberation Serif', serif" text-anchor="middle">R1</text>
<text x="4157.4" y="611.1" font-size="29" font-family="'Liberation Serif', serif" text-anchor="middle">R1</text>
<text x="4247.8" y="611.1" font-size="29" font-family="'Liberation Serif', serif" text-anchor="middle">R5</text>
<text x="4339.2" y="611.1" font-size="29" font-family="'Liberation Serif', serif" text-anchor="middle">R1</text>
<text x="4429.9" y="611.1" font-size="29" font-family="'Liberation Serif', serif" text-anchor="middle">R5</text>
<text x="3141.0" y="664.4" font-size="29" font-family="'Liberation Serif', serif">Triplet-BH [<tspan fill="#00FF00">19</tspan>]</text>
<text x="3396.2" y="664.4" font-size="29" font-family="'Liberation Serif', serif" text-anchor="middle">57.4</text>
<text x="3492.0" y="664.4" font-size="29" font-family="'Liberation Serif', serif" text-anchor="middle">79.6</text>
<text x="3587.1" y="664.4" font-size="29" font-family="'Liberation Serif', serif" text-anchor="middle">79.4</text>
<text x="3683.6" y="664.4" font-size="29" font-family="'Liberation Serif', serif" font-weight="bold" text-anchor="middle">89.6</text>
<text x="3780.0" y="664.4" font-size="29" font-family="'Liberation Serif', serif" text-anchor="middle">86.3</text>
<text x="3876.0" y="664.4" font-size="29" font-family="'Liberation Serif', serif" text-anchor="middle">93.5</text>
<text x="3972.6" y="664.4" font-size="29" font-family="'Liberation Serif', serif" text-anchor="middle">77.2</text>
<rect x="3947.2" y="668.6" width="50.8" height="1.5" fill="#000"/>
<text x="4067.5" y="664.4" font-size="29" font-family="'Liberation Serif', serif" text-anchor="middle">94.3</text>
<text x="4158.9" y="664.4" font-size="29" font-family="'Liberation Serif', serif" text-anchor="middle">85.8</text>
<text x="4249.3" y="664.4" font-size="29" font-family="'Liberation Serif', serif" text-anchor="middle">97.4</text>
<text x="4340.7" y="664.4" font-size="29" font-family="'Liberation Serif', serif" text-anchor="middle">80.4</text>
<text x="4431.4" y="664.4" font-size="29" font-family="'Liberation Serif', serif" font-weight="bold" text-anchor="middle">95.9</text>
<text x="3141.0" y="699.8" font-size="29" font-family="'Liberation Serif', serif">MS [<tspan fill="#00FF00">50</tspan>]</text>
<text x="3396.2" y="699.8" font-size="29" font-family="'Liberation Serif', serif" text-anchor="middle">45.4</text>
<text x="3492.0" y="699.8" font-size="29" font-family="'Liberation Serif', serif" text-anchor="middle">69.5</text>
<text x="3587.1" y="699.8" font-size="29" font-family="'Liberation Serif', serif" text-anchor="middle">70.6</text>
<text x="3683.6" y="699.8" font-size="29" font-family="'Liberation Serif', serif" text-anchor="middle">82.8</text>
<text x="3780.0" y="699.8" font-size="29" font-family="'Liberation Serif', serif" text-anchor="middle">78.9</text>
<text x="3876.0" y="699.8" font-size="29" font-family="'Liberation Serif', serif" text-anchor="middle">90.6</text>
<text x="3972.6" y="699.8" font-size="29" font-family="'Liberation Serif', serif" text-anchor="middle">73.0</text>
<text x="4067.5" y="699.8" font-size="29" font-family="'Liberation Serif', serif" text-anchor="middle">92.5</text>
<text x="4158.9" y="699.8" font-size="29" font-family="'Liberation Serif', serif" text-anchor="middle">82.5</text>
<text x="4249.3" y="699.8" font-size="29" font-family="'Liberation Serif', serif" text-anchor="middle">95.6</text>
<text x="4340.7" y="699.8" font-size="29" font-family="'Liberation Serif', serif" text-anchor="middle">80.2</text>
<text x="4431.4" y="699.8" font-size="29" font-family="'Liberation Serif', serif" text-anchor="middle">94.3</text>
<text x="3141.0" y="736.0" font-size="29" font-family="'Liberation Serif', serif">Circle [<tspan fill="#00FF00">45</tspan>]</text>
<text x="3396.2" y="736.0" font-size="29" font-family="'Liberation Serif', serif" text-anchor="middle">56.1</text>
<text x="3492.0" y="736.0" font-size="29" font-family="'Liberation Serif', serif" text-anchor="middle">78.6</text>
<text x="3587.1" y="736.0" font-size="29" font-family="'Liberation Serif', serif" text-anchor="middle">78.7</text>
<text x="3683.6" y="736.0" font-size="29" font-family="'Liberation Serif', serif" text-anchor="middle">88.8</text>
<text x="3780.0" y="736.0" font-size="29" font-family="'Liberation Serif', serif" text-anchor="middle">86.0</text>
<text x="3876.0" y="736.0" font-size="29" font-family="'Liberation Serif', serif" text-anchor="middle">93.7</text>
<text x="3972.6" y="736.0" font-size="29" font-family="'Liberation Serif', serif" text-anchor="middle">72.9</text>
<text x="4067.5" y="736.0" font-size="29" font-family="'Liberation Serif', serif" text-anchor="middle">92.7</text>
<text x="4158.9" y="736.0" font-size="29" font-family="'Liberation Serif', serif" text-anchor="middle">84.5</text>
<text x="4249.3" y="736.0" font-size="29" font-family="'Liberation Serif', serif" text-anchor="middle">96.7</text>
<text x="4340.7" y="736.0" font-size="29" font-family="'Liberation Serif', serif" text-anchor="middle">81.1</text>
<text x="4431.4" y="736.0" font-size="29" font-family="'Liberation Serif', serif" text-anchor="middle">95.8</text>
<rect x="4406.0" y="740.2" width="50.8" height="1.5" fill="#000"/>
<text x="3141.0" y="771.7" font-size="29" font-family="'Liberation Serif', serif">SupCon [<tspan fill="#00FF00">22</tspan>]</text>
<text x="3396.2" y="771.7" font-size="29" font-family="'Liberation Serif', serif" text-anchor="middle">38.2</text>
<text x="3492.0" y="771.7" font-size="29" font-family="'Liberation Serif', serif" text-anchor="middle">61.9</text>
<text x="3587.1" y="771.7" font-size="29" font-family="'Liberation Serif', serif" text-anchor="middle">64.5</text>
<text x="3683.6" y="771.7" font-size="29" font-family="'Liberation Serif', serif" text-anchor="middle">79.7</text>
<text x="3780.0" y="771.7" font-size="29" font-family="'Liberation Serif', serif" text-anchor="middle">73.5</text>
<text x="3876.0" y="771.7" font-size="29" font-family="'Liberation Serif', serif" text-anchor="middle">86.2</text>
<text x="3972.6" y="771.7" font-size="29" font-family="'Liberation Serif', serif" text-anchor="middle">70.3</text>
<text x="4067.5" y="771.7" font-size="29" font-family="'Liberation Serif', serif" text-anchor="middle">89.6</text>
<text x="4158.9" y="771.7" font-size="29" font-family="'Liberation Serif', serif" text-anchor="middle">79.7</text>
<text x="4249.3" y="771.7" font-size="29" font-family="'Liberation Serif', serif" text-anchor="middle">97.1</text>
<text x="4340.7" y="771.7" font-size="29" font-family="'Liberation Serif', serif" text-anchor="middle">73.8</text>
<text x="4431.4" y="771.7" font-size="29" font-family="'Liberation Serif', serif" text-anchor="middle">94.0</text>
<text x="3141.0" y="807.9" font-size="29" font-family="'Liberation Serif', serif">EP [<tspan fill="#00FF00">55</tspan>]</text>
<text x="3396.2" y="807.9" font-size="29" font-family="'Liberation Serif', serif" text-anchor="middle">41.1</text>
<text x="3492.0" y="807.9" font-size="29" font-family="'Liberation Serif', serif" text-anchor="middle">67.8</text>
<text x="3587.1" y="807.9" font-size="29" font-family="'Liberation Serif', serif" text-anchor="middle">67.4</text>
<text x="3683.6" y="807.9" font-size="29" font-family="'Liberation Serif', serif" text-anchor="middle">82.0</text>
<text x="3780.0" y="807.9" font-size="29" font-family="'Liberation Serif', serif" text-anchor="middle">76.0</text>
<text x="3876.0" y="807.9" font-size="29" font-family="'Liberation Serif', serif" text-anchor="middle">90.4</text>
<text x="3972.6" y="807.9" font-size="29" font-family="'Liberation Serif', serif" text-anchor="middle">57.2</text>
<text x="4067.5" y="807.9" font-size="29" font-family="'Liberation Serif', serif" text-anchor="middle">93.2</text>
<text x="4158.9" y="807.9" font-size="29" font-family="'Liberation Serif', serif" text-anchor="middle">74.5</text>
<text x="4249.3" y="807.9" font-size="29" font-family="'Liberation Serif', serif" text-anchor="middle">87.2</text>
<text x="4340.7" y="807.9" font-size="29" font-family="'Liberation Serif', serif" text-anchor="middle">71.2</text>
<text x="4431.4" y="807.9" font-size="29" font-family="'Liberation Serif', serif" text-anchor="middle">82.4</text>
<text x="3141.0" y="860.8" font-size="29" font-family="'Liberation Serif', serif">SP-H</text>
<text x="3396.2" y="860.8" font-size="29" font-family="'Liberation Serif', serif" font-weight="bold" text-anchor="middle">61.0</text>
<text x="3492.0" y="860.8" font-size="29" font-family="'Liberation Serif', serif" text-anchor="middle">82.0</text>
<rect x="3466.6" y="865.0" width="50.8" height="1.5" fill="#000"/>
<text x="3587.1" y="860.8" font-size="29" font-family="'Liberation Serif', serif" font-weight="bold" text-anchor="middle">80.5</text>
<text x="3683.6" y="860.8" font-size="29" font-family="'Liberation Serif', serif" font-weight="bold" text-anchor="middle">89.6</text>
<text x="3780.0" y="860.8" font-size="29" font-family="'Liberation Serif', serif" font-weight="bold" text-anchor="middle">87.5</text>
<text x="3876.0" y="860.8" font-size="29" font-family="'Liberation Serif', serif" font-weight="bold" text-anchor="middle">94.3</text>
<text x="3972.6" y="860.8" font-size="29" font-family="'Liberation Serif', serif" text-anchor="middle">75.3</text>
<text x="4067.5" y="860.8" font-size="29" font-family="'Liberation Serif', serif" text-anchor="middle">93.0</text>
<text x="4158.9" y="860.8" font-size="29" font-family="'Liberation Serif', serif" text-anchor="middle">85.6</text>
<text x="4249.3" y="860.8" font-size="29" font-family="'Liberation Serif', serif" font-weight="bold" text-anchor="middle">98.4</text>
<text x="4340.7" y="860.8" font-size="29" font-family="'Liberation Serif', serif" text-anchor="middle">80.0</text>
<text x="4431.4" y="860.8" font-size="29" font-family="'Liberation Serif', serif" text-anchor="middle">95.4</text>
<text x="3141.0" y="896.2" font-size="29" font-family="'Liberation Serif', serif">SP-LH</text>
<text x="3396.2" y="896.2" font-size="29" font-family="'Liberation Serif', serif" text-anchor="middle">58.4</text>
<text x="3492.0" y="896.2" font-size="29" font-family="'Liberation Serif', serif" text-anchor="middle">80.8</text>
<text x="3587.1" y="896.2" font-size="29" font-family="'Liberation Serif', serif" text-anchor="middle">77.0</text>
<text x="3683.6" y="896.2" font-size="29" font-family="'Liberation Serif', serif" text-anchor="middle">87.7</text>
<text x="3780.0" y="896.2" font-size="29" font-family="'Liberation Serif', serif" text-anchor="middle">83.8</text>
<text x="3876.0" y="896.2" font-size="29" font-family="'Liberation Serif', serif" text-anchor="middle">93.4</text>
<text x="3972.6" y="896.2" font-size="29" font-family="'Liberation Serif', serif" text-anchor="middle">77.2</text>
<rect x="3947.2" y="900.4" width="50.8" height="1.5" fill="#000"/>
<text x="4067.5" y="896.2" font-size="29" font-family="'Liberation Serif', serif" text-anchor="middle">94.6</text>
<rect x="4042.1" y="900.4" width="50.8" height="1.5" fill="#000"/>
<text x="4158.9" y="896.2" font-size="29" font-family="'Liberation Serif', serif" font-weight="bold" text-anchor="middle">87.0</text>
<text x="4249.3" y="896.2" font-size="29" font-family="'Liberation Serif', serif" text-anchor="middle">97.9</text>
<text x="4340.7" y="896.2" font-size="29" font-family="'Liberation Serif', serif" font-weight="bold" text-anchor="middle">81.9</text>
<text x="4431.4" y="896.2" font-size="29" font-family="'Liberation Serif', serif" text-anchor="middle">95.7</text>
<text x="3141.0" y="932.3" font-size="29" font-family="'Liberation Serif', serif">AdaSP</text>
<text x="3396.2" y="932.3" font-size="29" font-family="'Liberation Serif', serif" text-anchor="middle">60.7</text>
<rect x="3370.8" y="936.5" width="50.8" height="1.5" fill="#000"/>
<text x="3492.0" y="932.3" font-size="29" font-family="'Liberation Serif', serif" font-weight="bold" text-anchor="middle">82.3</text>
<text x="3587.1" y="932.3" font-size="29" font-family="'Liberation Serif', serif" text-anchor="middle">80.1</text>
<rect x="3561.7" y="936.5" width="50.8" height="1.5" fill="#000"/>
<text x="3683.6" y="932.3" font-size="29" font-family="'Liberation Serif', serif" text-anchor="middle">89.5</text>
<rect x="3658.2" y="936.5" width="50.8" height="1.5" fill="#000"/>
<text x="3780.0" y="932.3" font-size="29" font-family="'Liberation Serif', serif" text-anchor="middle">86.8</text>
<rect x="3754.6" y="936.5" width="50.8" height="1.5" fill="#000"/>
<text x="3876.0" y="932.3" font-size="29" font-family="'Liberation Serif', serif" text-anchor="middle">94.1</text>
<rect x="3850.6" y="936.5" width="50.8" height="1.5" fill="#000"/>
<text x="3972.6" y="932.3" font-size="29" font-family="'Liberation Serif', serif" font-weight="bold" text-anchor="middle">77.6</text>
<text x="4067.5" y="932.3" font-size="29" font-family="'Liberation Serif', serif" font-weight="bold" text-anchor="middle">94.8</text>
<text x="4158.9" y="932.3" font-size="29" font-family="'Liberation Serif', serif" text-anchor="middle">86.4</text>
<rect x="4133.5" y="936.5" width="50.8" height="1.5" fill="#000"/>
<text x="4249.3" y="932.3" font-size="29" font-family="'Liberation Serif', serif" text-anchor="middle">98.3</text>
<rect x="4223.9" y="936.5" width="50.8" height="1.5" fill="#000"/>
<text x="4340.7" y="932.3" font-size="29" font-family="'Liberation Serif', serif" text-anchor="middle">81.8</text>
<rect x="4315.3" y="936.5" width="50.8" height="1.5" fill="#000"/>
<text x="4431.4" y="932.3" font-size="29" font-family="'Liberation Serif', serif" font-weight="bold" text-anchor="middle">95.9</text>
</g>
<g id="s_charts">
<rect x="3208.0" y="1178.5" width="60.1" height="15.4" fill="#DFDFDF"/>
<rect x="3208.0" y="1193.9" width="60.1" height="45.8" fill="#F9D37E"/>
<rect x="3208.0" y="1239.7" width="60.1" height="221.2" fill="#6EC4FF"/>
<rect x="3282.4" y="1237.2" width="59.7" height="26.2" fill="#DFDFDF"/>
<rect x="3282.4" y="1263.4" width="59.7" height="61.1" fill="#F9D37E"/>
<rect x="3282.4" y="1324.6" width="59.7" height="136.3" fill="#6EC4FF"/>
<rect x="3357.2" y="1184.8" width="59.7" height="21.7" fill="#DFDFDF"/>
<rect x="3357.2" y="1206.5" width="59.7" height="75.5" fill="#F9D37E"/>
<rect x="3357.2" y="1282.0" width="59.7" height="178.9" fill="#6EC4FF"/>
<rect x="3431.6" y="1272.9" width="59.7" height="46.8" fill="#DFDFDF"/>
<rect x="3431.6" y="1319.7" width="59.7" height="90.1" fill="#F9D37E"/>
<rect x="3431.6" y="1409.8" width="59.7" height="51.0" fill="#6EC4FF"/>
<rect x="3506.0" y="1258.9" width="59.7" height="90.8" fill="#DFDFDF"/>
<rect x="3506.0" y="1349.7" width="59.7" height="77.2" fill="#F9D37E"/>
<rect x="3506.0" y="1427.0" width="59.7" height="33.9" fill="#6EC4FF"/>
<rect x="3580.4" y="1160.7" width="59.7" height="18.5" fill="#DFDFDF"/>
<rect x="3580.4" y="1179.2" width="59.7" height="41.2" fill="#F9D37E"/>
<rect x="3580.4" y="1220.5" width="59.7" height="240.4" fill="#6EC4FF"/>
<rect x="3654.9" y="1173.3" width="59.7" height="9.1" fill="#DFDFDF"/>
<rect x="3654.9" y="1182.4" width="59.7" height="33.2" fill="#F9D37E"/>
<rect x="3654.9" y="1215.6" width="59.7" height="245.3" fill="#6EC4FF"/>
<rect x="3729.3" y="1162.1" width="59.7" height="11.5" fill="#DFDFDF"/>
<rect x="3729.3" y="1173.6" width="59.7" height="40.9" fill="#F9D37E"/>
<rect x="3729.3" y="1214.5" width="59.7" height="246.3" fill="#6EC4FF"/>
<path d="M3186.0,1141.1V1460.9M3180.4,1460.9H3819.1" stroke="#404040" stroke-width="1.2" fill="none"/>
<text x="3176.2" y="1471.9" font-size="22" font-family="'Liberation Sans', sans-serif" fill="#222" text-anchor="end">0</text>
<text x="3176.2" y="1422.2" font-size="22" font-family="'Liberation Sans', sans-serif" fill="#222" text-anchor="end">10</text>
<text x="3176.2" y="1373.0" font-size="22" font-family="'Liberation Sans', sans-serif" fill="#222" text-anchor="end">20</text>
<text x="3176.2" y="1323.7" font-size="22" font-family="'Liberation Sans', sans-serif" fill="#222" text-anchor="end">30</text>
<text x="3176.2" y="1274.4" font-size="22" font-family="'Liberation Sans', sans-serif" fill="#222" text-anchor="end">40</text>
<text x="3176.2" y="1225.2" font-size="22" font-family="'Liberation Sans', sans-serif" fill="#222" text-anchor="end">50</text>
<text x="3176.2" y="1175.9" font-size="22" font-family="'Liberation Sans', sans-serif" fill="#222" text-anchor="end">60</text>
<path d="M3180.4,1460.9H3186.0M3180.4,1411.2H3186.0M3180.4,1362.0H3186.0M3180.4,1312.7H3186.0M3180.4,1263.4H3186.0M3180.4,1214.2H3186.0M3180.4,1164.9H3186.0M3238.0,1460.9V1467.8M3312.3,1460.9V1467.8M3387.0,1460.9V1467.8M3461.5,1460.9V1467.8M3535.9,1460.9V1467.8M3610.3,1460.9V1467.8M3684.7,1460.9V1467.8M3759.2,1460.9V1467.8" stroke="#404040" stroke-width="1.2" fill="none"/>
<path d="M3186.0,1221.9H3819.1" stroke="#555" stroke-width="1.1" stroke-dasharray="6 3.5" fill="none"/>
<text x="3239.1" y="1192.5" font-size="20.5" font-family="'Liberation Sans', sans-serif" fill="#111" text-anchor="middle" textLength="44.7" lengthAdjust="spacingAndGlyphs">5.4%</text>
<text x="3239.1" y="1222.6" font-size="20.5" font-family="'Liberation Sans', sans-serif" fill="#111" text-anchor="middle" textLength="55.9" lengthAdjust="spacingAndGlyphs">16.2%</text>
<text x="3313.3" y="1259.9" font-size="20.5" font-family="'Liberation Sans', sans-serif" fill="#111" text-anchor="middle" textLength="55.9" lengthAdjust="spacingAndGlyphs">11.5%</text>
<text x="3313.3" y="1304.7" font-size="20.5" font-family="'Liberation Sans', sans-serif" fill="#111" text-anchor="middle" textLength="55.9" lengthAdjust="spacingAndGlyphs">27.5%</text>
<text x="3388.1" y="1204.0" font-size="20.5" font-family="'Liberation Sans', sans-serif" fill="#111" text-anchor="middle" textLength="44.7" lengthAdjust="spacingAndGlyphs">7.8%</text>
<text x="3388.1" y="1252.3" font-size="20.5" font-family="'Liberation Sans', sans-serif" fill="#111" text-anchor="middle" textLength="55.9" lengthAdjust="spacingAndGlyphs">27.3%</text>
<text x="3462.5" y="1307.8" font-size="20.5" font-family="'Liberation Sans', sans-serif" fill="#111" text-anchor="middle" textLength="55.9" lengthAdjust="spacingAndGlyphs">24.9%</text>
<text x="3462.5" y="1374.2" font-size="20.5" font-family="'Liberation Sans', sans-serif" fill="#111" text-anchor="middle" textLength="55.9" lengthAdjust="spacingAndGlyphs">47.9%</text>
<text x="3536.9" y="1315.8" font-size="20.5" font-family="'Liberation Sans', sans-serif" fill="#111" text-anchor="middle" textLength="55.9" lengthAdjust="spacingAndGlyphs">45.0%</text>
<text x="3536.9" y="1396.2" font-size="20.5" font-family="'Liberation Sans', sans-serif" fill="#111" text-anchor="middle" textLength="55.9" lengthAdjust="spacingAndGlyphs">38.0%</text>
<text x="3611.4" y="1177.8" font-size="20.5" font-family="'Liberation Sans', sans-serif" fill="#111" text-anchor="middle" textLength="44.7" lengthAdjust="spacingAndGlyphs">6.1%</text>
<text x="3611.4" y="1211.7" font-size="20.5" font-family="'Liberation Sans', sans-serif" fill="#111" text-anchor="middle" textLength="55.9" lengthAdjust="spacingAndGlyphs">13.8%</text>
<text x="3685.8" y="1182.4" font-size="20.5" font-family="'Liberation Sans', sans-serif" fill="#111" text-anchor="middle" textLength="44.7" lengthAdjust="spacingAndGlyphs">3.1%</text>
<text x="3685.8" y="1210.0" font-size="20.5" font-family="'Liberation Sans', sans-serif" fill="#111" text-anchor="middle" textLength="55.9" lengthAdjust="spacingAndGlyphs">11.6%</text>
<text x="3760.2" y="1172.6" font-size="20.5" font-family="'Liberation Sans', sans-serif" fill="#111" text-anchor="middle" textLength="44.7" lengthAdjust="spacingAndGlyphs">4.0%</text>
<text x="3760.2" y="1205.8" font-size="20.5" font-family="'Liberation Sans', sans-serif" fill="#111" text-anchor="middle" textLength="55.9" lengthAdjust="spacingAndGlyphs">13.5%</text>
<text x="3190.1" y="1496.8" font-size="21.5" font-family="'Liberation Sans', sans-serif" fill="#222" textLength="93.3" lengthAdjust="spacingAndGlyphs">Triplet-BH</text>
<text x="3298.1" y="1496.8" font-size="21.5" font-family="'Liberation Sans', sans-serif" fill="#222" textLength="29.0" lengthAdjust="spacingAndGlyphs">MS</text>
<text x="3360.3" y="1496.8" font-size="21.5" font-family="'Liberation Sans', sans-serif" fill="#222" textLength="51.4" lengthAdjust="spacingAndGlyphs">Circle</text>
<text x="3429.1" y="1496.8" font-size="21.5" font-family="'Liberation Sans', sans-serif" fill="#222" textLength="69.9" lengthAdjust="spacingAndGlyphs">SupCon</text>
<text x="3524.5" y="1496.8" font-size="21.5" font-family="'Liberation Sans', sans-serif" fill="#222" textLength="22.7" lengthAdjust="spacingAndGlyphs">EP</text>
<text x="3589.2" y="1496.8" font-size="21.5" font-family="'Liberation Sans', sans-serif" fill="#222" textLength="43.7" lengthAdjust="spacingAndGlyphs">SP-H</text>
<text x="3660.1" y="1496.8" font-size="21.5" font-family="'Liberation Sans', sans-serif" fill="#222" textLength="52.4" lengthAdjust="spacingAndGlyphs">SP-LH</text>
<text x="3733.1" y="1496.8" font-size="21.5" font-family="'Liberation Sans', sans-serif" fill="#222" textLength="57.0" lengthAdjust="spacingAndGlyphs">AdaSP</text>
<rect x="3237.3" y="1103.4" width="490.6" height="32.5" fill="#fff" stroke="#333" stroke-width="1"/>
<text x="3246.8" y="1126.5" font-size="21.5" font-family="'Liberation Sans', sans-serif" fill="#222" textLength="227.8" lengthAdjust="spacingAndGlyphs">Instance number per ID:</text>
<rect x="3490.6" y="1112.1" width="41.9" height="15.7" fill="#6EC4FF"/>
<rect x="3574.5" y="1112.1" width="41.9" height="15.7" fill="#F9D37E"/>
<rect x="3659.0" y="1112.1" width="41.2" height="15.7" fill="#DFDFDF"/>
<text x="3536.8" y="1126.5" font-size="21.5" font-family="'Liberation Sans', sans-serif" fill="#222" textLength="21.0" lengthAdjust="spacingAndGlyphs">32</text>
<text x="3618.9" y="1126.5" font-size="21.5" font-family="'Liberation Sans', sans-serif" fill="#222" textLength="21.0" lengthAdjust="spacingAndGlyphs">16</text>
<text x="3704.5" y="1126.5" font-size="21.5" font-family="'Liberation Sans', sans-serif" fill="#222">8</text>
<g transform="translate(3142.6,1299.4) rotate(-90)"><text x="0.0" y="0.0" font-size="21.5" font-family="'Liberation Sans', sans-serif" fill="#222" text-anchor="middle">mAP</text></g>
<rect x="3889.9" y="1127.9" width="60.8" height="15.0" fill="#D9D9D9"/>
<rect x="3889.9" y="1142.9" width="60.8" height="64.3" fill="#F8CB6A"/>
<rect x="3889.9" y="1207.2" width="60.8" height="256.1" fill="#59BAFD"/>
<rect x="3965.8" y="1152.0" width="61.1" height="28.7" fill="#D9D9D9"/>
<rect x="3965.8" y="1180.6" width="61.1" height="73.0" fill="#F8CB6A"/>
<rect x="3965.8" y="1253.7" width="61.1" height="209.6" fill="#59BAFD"/>
<rect x="4043.0" y="1152.7" width="60.8" height="13.3" fill="#D9D9D9"/>
<rect x="4043.0" y="1166.0" width="60.8" height="61.8" fill="#F8CB6A"/>
<rect x="4043.0" y="1227.8" width="60.8" height="235.5" fill="#59BAFD"/>
<rect x="4118.8" y="1168.1" width="61.1" height="48.6" fill="#D9D9D9"/>
<rect x="4118.8" y="1216.6" width="61.1" height="162.1" fill="#F8CB6A"/>
<rect x="4118.8" y="1378.7" width="61.1" height="84.6" fill="#59BAFD"/>
<rect x="4195.0" y="1244.9" width="60.8" height="63.9" fill="#D9D9D9"/>
<rect x="4195.0" y="1308.9" width="60.8" height="57.0" fill="#F8CB6A"/>
<rect x="4195.0" y="1365.8" width="60.8" height="97.5" fill="#59BAFD"/>
<rect x="4271.8" y="1138.7" width="61.1" height="14.0" fill="#D9D9D9"/>
<rect x="4271.8" y="1152.7" width="61.1" height="55.9" fill="#F8CB6A"/>
<rect x="4271.8" y="1208.6" width="61.1" height="254.7" fill="#59BAFD"/>
<rect x="4348.0" y="1127.9" width="60.8" height="7.0" fill="#D9D9D9"/>
<rect x="4348.0" y="1134.9" width="60.8" height="44.0" fill="#F8CB6A"/>
<rect x="4348.0" y="1178.9" width="60.8" height="284.4" fill="#59BAFD"/>
<rect x="4424.2" y="1124.7" width="60.8" height="17.1" fill="#D9D9D9"/>
<rect x="4424.2" y="1141.8" width="60.8" height="37.0" fill="#F8CB6A"/>
<rect x="4424.2" y="1178.9" width="60.8" height="284.4" fill="#59BAFD"/>
<path d="M3867.6,1110.7V1463.3M3861.6,1463.3H4509.1" stroke="#404040" stroke-width="1.2" fill="none"/>
<text x="3852.2" y="1470.3" font-size="19" font-family="'Liberation Sans', sans-serif" fill="#222" text-anchor="end">20</text>
<text x="3852.2" y="1411.2" font-size="19" font-family="'Liberation Sans', sans-serif" fill="#222" text-anchor="end">30</text>
<text x="3852.2" y="1352.5" font-size="19" font-family="'Liberation Sans', sans-serif" fill="#222" text-anchor="end">40</text>
<text x="3852.2" y="1293.8" font-size="19" font-family="'Liberation Sans', sans-serif" fill="#222" text-anchor="end">50</text>
<text x="3852.2" y="1235.1" font-size="19" font-family="'Liberation Sans', sans-serif" fill="#222" text-anchor="end">60</text>
<text x="3852.2" y="1176.8" font-size="19" font-family="'Liberation Sans', sans-serif" fill="#222" text-anchor="end">70</text>
<text x="3852.2" y="1118.1" font-size="19" font-family="'Liberation Sans', sans-serif" fill="#222" text-anchor="end">80</text>
<path d="M3861.6,1463.3H3867.6M3861.6,1404.2H3867.6M3861.6,1345.5H3867.6M3861.6,1286.8H3867.6M3861.6,1228.1H3867.6M3861.6,1169.8H3867.6M3861.6,1111.1H3867.6M3920.3,1463.3V1470.3M3996.3,1463.3V1470.3M4073.4,1463.3V1470.3M4149.4,1463.3V1470.3M4225.4,1463.3V1470.3M4302.4,1463.3V1470.3M4378.4,1463.3V1470.3M4454.6,1463.3V1470.3" stroke="#404040" stroke-width="1.2" fill="none"/>
<path d="M3867.6,1208.6H4509.1" stroke="#333" stroke-width="1.1" stroke-dasharray="6 3.5" fill="none"/>
<text x="3920.3" y="1137.0" font-size="18.5" font-family="'Liberation Sans', sans-serif" fill="#111" text-anchor="middle" textLength="41.9" lengthAdjust="spacingAndGlyphs">3.4%</text>
<text x="3920.3" y="1180.6" font-size="18.5" font-family="'Liberation Sans', sans-serif" fill="#111" text-anchor="middle" textLength="51.7" lengthAdjust="spacingAndGlyphs">14.3%</text>
<text x="3996.3" y="1171.5" font-size="18.5" font-family="'Liberation Sans', sans-serif" fill="#111" text-anchor="middle" textLength="41.9" lengthAdjust="spacingAndGlyphs">6.7%</text>
<text x="3996.3" y="1225.7" font-size="18.5" font-family="'Liberation Sans', sans-serif" fill="#111" text-anchor="middle" textLength="51.7" lengthAdjust="spacingAndGlyphs">17.0%</text>
<text x="4073.4" y="1161.4" font-size="18.5" font-family="'Liberation Sans', sans-serif" fill="#111" text-anchor="middle" textLength="41.9" lengthAdjust="spacingAndGlyphs">3.2%</text>
<text x="4073.4" y="1200.5" font-size="18.5" font-family="'Liberation Sans', sans-serif" fill="#111" text-anchor="middle" textLength="51.7" lengthAdjust="spacingAndGlyphs">14.4%</text>
<text x="4149.4" y="1196.7" font-size="18.5" font-family="'Liberation Sans', sans-serif" fill="#111" text-anchor="middle" textLength="51.7" lengthAdjust="spacingAndGlyphs">12.0%</text>
<text x="4149.4" y="1301.2" font-size="18.5" font-family="'Liberation Sans', sans-serif" fill="#111" text-anchor="middle" textLength="51.7" lengthAdjust="spacingAndGlyphs">39.3%</text>
<text x="4225.4" y="1283.7" font-size="18.5" font-family="'Liberation Sans', sans-serif" fill="#111" text-anchor="middle" textLength="51.7" lengthAdjust="spacingAndGlyphs">19.2%</text>
<text x="4225.4" y="1342.8" font-size="18.5" font-family="'Liberation Sans', sans-serif" fill="#111" text-anchor="middle" textLength="51.7" lengthAdjust="spacingAndGlyphs">17.0%</text>
<text x="4302.4" y="1146.4" font-size="18.5" font-family="'Liberation Sans', sans-serif" fill="#111" text-anchor="middle" textLength="41.9" lengthAdjust="spacingAndGlyphs">3.2%</text>
<text x="4302.4" y="1188.7" font-size="18.5" font-family="'Liberation Sans', sans-serif" fill="#111" text-anchor="middle" textLength="51.7" lengthAdjust="spacingAndGlyphs">12.8%</text>
<text x="4378.4" y="1132.4" font-size="18.5" font-family="'Liberation Sans', sans-serif" fill="#111" text-anchor="middle" textLength="41.9" lengthAdjust="spacingAndGlyphs">1.6%</text>
<text x="4378.4" y="1162.5" font-size="18.5" font-family="'Liberation Sans', sans-serif" fill="#111" text-anchor="middle" textLength="41.9" lengthAdjust="spacingAndGlyphs">9.7%</text>
<text x="4454.6" y="1134.2" font-size="18.5" font-family="'Liberation Sans', sans-serif" fill="#111" text-anchor="middle" textLength="41.9" lengthAdjust="spacingAndGlyphs">3.7%</text>
<text x="4454.6" y="1163.5" font-size="18.5" font-family="'Liberation Sans', sans-serif" fill="#111" text-anchor="middle" textLength="41.9" lengthAdjust="spacingAndGlyphs">8.1%</text>
<text x="3878.1" y="1495.8" font-size="19" font-family="'Liberation Sans', sans-serif" fill="#333" textLength="83.9" lengthAdjust="spacingAndGlyphs">Triplet-BH</text>
<text x="3983.2" y="1495.8" font-size="19" font-family="'Liberation Sans', sans-serif" fill="#333" textLength="27.6" lengthAdjust="spacingAndGlyphs">MS</text>
<text x="4047.9" y="1495.8" font-size="19" font-family="'Liberation Sans', sans-serif" fill="#333" textLength="47.9" lengthAdjust="spacingAndGlyphs">Circle</text>
<text x="4114.9" y="1495.8" font-size="19" font-family="'Liberation Sans', sans-serif" fill="#333" textLength="67.1" lengthAdjust="spacingAndGlyphs">SupCon</text>
<text x="4212.8" y="1495.8" font-size="19" font-family="'Liberation Sans', sans-serif" fill="#333" textLength="24.5" lengthAdjust="spacingAndGlyphs">EP</text>
<text x="4279.2" y="1495.8" font-size="19" font-family="'Liberation Sans', sans-serif" fill="#333" textLength="44.7" lengthAdjust="spacingAndGlyphs">SP-H</text>
<text x="4350.4" y="1495.8" font-size="19" font-family="'Liberation Sans', sans-serif" fill="#333" textLength="55.2" lengthAdjust="spacingAndGlyphs">SP-LH</text>
<text x="4424.2" y="1495.8" font-size="19" font-family="'Liberation Sans', sans-serif" fill="#333" textLength="59.4" lengthAdjust="spacingAndGlyphs">AdaSP</text>
<g transform="translate(3823.2,1287.9) rotate(-90)"><text x="0.0" y="0.0" font-size="19" font-family="'Liberation Sans', sans-serif" fill="#222" text-anchor="middle">mAP</text></g>
</g>
</svg>
</body></html>
